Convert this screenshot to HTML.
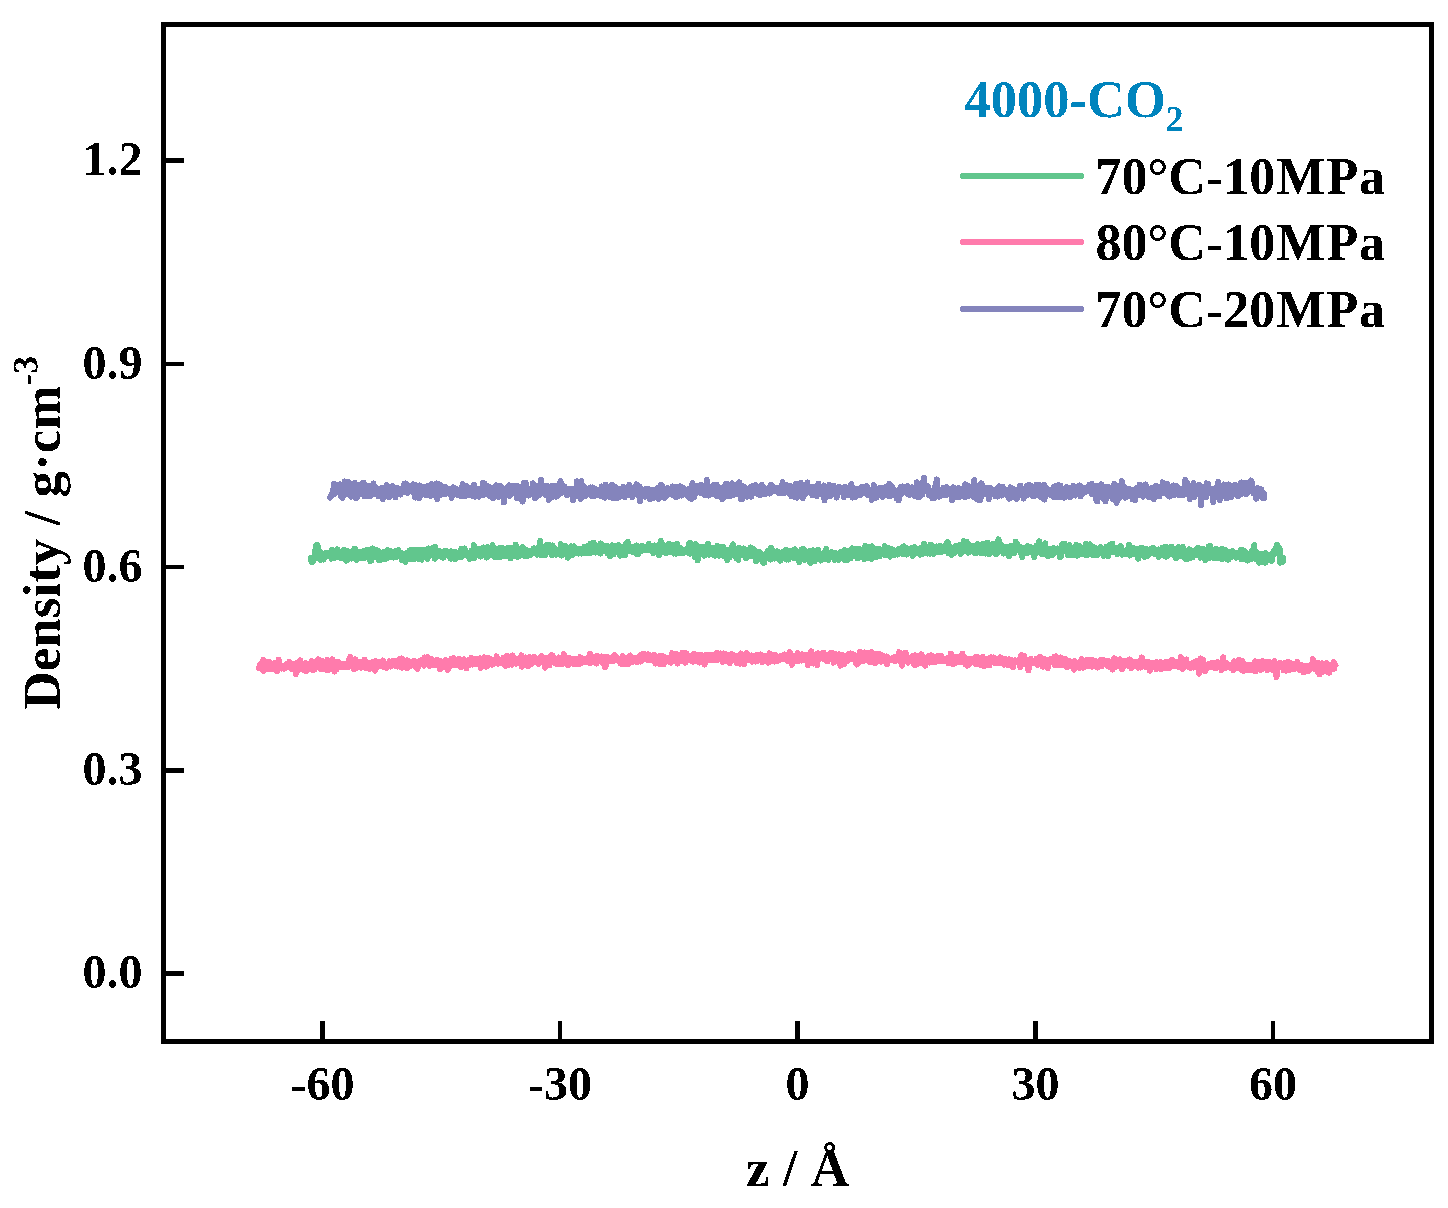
<!DOCTYPE html>
<html><head><meta charset="utf-8"><title>Density profile</title>
<style>
html,body{margin:0;padding:0;background:#fff;}
svg{display:block;}
text{font-family:"Liberation Serif",serif;font-weight:bold;fill:#000;}
.tk{font-size:48px;}
.lg{font-size:52px;}
.ax{font-size:53px;}
.ti{font-size:52.5px;fill:#0084BD;}
</style></head><body>
<svg width="1448" height="1208" viewBox="0 0 1448 1208">
<defs><filter id="al" x="-5%" y="-20%" width="110%" height="140%" color-interpolation-filters="sRGB"><feComponentTransfer><feFuncA type="discrete" tableValues="0 1"/></feComponentTransfer></filter></defs>
<rect x="0" y="0" width="1448" height="1208" fill="#fff"/>
<g id="data">
<path d="M259.0,668.1 259.6,666.4 260.1,664.3 260.7,668.8 261.2,668.1 261.8,663.6 262.3,665.4 262.9,663.3 263.4,659.9 264.0,670.9 264.5,665.4 265.1,668.0 265.6,667.1 266.2,666.4 266.7,663.5 267.3,663.6 267.8,667.4 268.4,669.2 268.9,661.5 269.5,663.8 270.0,665.7 270.6,668.9 271.1,667.6 271.7,668.3 272.2,666.8 272.8,663.7 273.3,665.8 273.9,669.5 274.4,666.6 275.0,663.0 275.5,669.8 276.1,667.3 276.6,668.0 277.2,671.2 277.7,664.7 278.3,664.3 278.8,659.6 279.4,666.5 279.9,667.7 280.5,666.0 281.0,666.1 281.6,668.5 282.1,667.1 282.7,667.1 283.2,665.8 283.8,665.9 284.3,668.7 284.9,665.8 285.4,664.9 286.0,664.5 286.5,665.7 287.1,666.5 287.6,667.3 288.2,666.3 288.7,665.1 289.3,661.7 289.8,667.5 290.4,663.3 290.9,665.5 291.5,669.0 292.0,666.5 292.6,663.8 293.1,667.7 293.7,665.1 294.2,664.6 294.8,669.1 295.3,667.6 295.9,674.1 296.4,663.0 297.0,665.8 297.5,666.9 298.1,669.2 298.6,665.1 299.2,669.9 299.7,666.2 300.3,660.3 300.8,665.4 301.4,665.7 301.9,665.4 302.5,664.2 303.0,665.2 303.6,668.3 304.1,668.1 304.7,670.7 305.2,663.6 305.8,663.0 306.3,671.2 306.9,666.7 307.4,666.8 308.0,663.5 308.5,666.7 309.1,665.8 309.6,665.7 310.2,668.7 310.7,663.5 311.3,666.0 311.8,661.1 312.4,666.7 312.9,662.7 313.5,670.2 314.0,662.0 314.6,669.7 315.1,663.3 315.7,661.3 316.2,666.0 316.8,666.1 317.3,663.0 317.9,662.1 318.4,659.2 319.0,664.5 319.5,666.3 320.1,660.1 320.6,665.7 321.2,669.5 321.7,660.8 322.3,666.8 322.8,666.8 323.4,663.7 323.9,666.2 324.5,662.4 325.0,666.5 325.6,669.5 326.1,664.4 326.7,663.7 327.2,660.0 327.8,670.1 328.3,670.1 328.9,663.9 329.4,665.5 330.0,665.0 330.5,667.1 331.1,661.1 331.6,666.9 332.2,659.3 332.7,666.9 333.3,663.2 333.8,667.8 334.4,671.6 334.9,663.5 335.5,663.2 336.0,662.0 336.6,669.5 337.1,667.9 337.7,663.5 338.2,661.6 338.8,666.4 339.3,665.1 339.9,663.8 340.4,665.3 341.0,666.8 341.5,664.9 342.1,666.6 342.6,665.0 343.2,665.7 343.7,663.6 344.3,667.0 344.8,665.4 345.4,664.2 345.9,665.4 346.5,664.3 347.0,664.4 347.6,666.3 348.1,667.2 348.7,660.7 349.2,664.4 349.8,665.1 350.3,657.0 350.9,666.0 351.4,664.2 352.0,663.4 352.5,660.2 353.1,661.1 353.6,665.0 354.2,669.5 354.7,663.7 355.3,659.3 355.8,668.0 356.4,665.2 356.9,667.8 357.5,663.1 358.0,667.0 358.6,665.6 359.1,661.5 359.7,663.8 360.2,665.0 360.8,662.4 361.3,667.8 361.9,663.6 362.4,667.0 363.0,664.0 363.5,666.3 364.1,666.1 364.6,659.7 365.2,664.0 365.7,666.5 366.3,663.7 366.8,668.5 367.4,668.0 367.9,662.6 368.5,665.0 369.0,666.0 369.6,662.8 370.1,668.9 370.7,666.6 371.2,664.8 371.8,662.5 372.3,662.3 372.9,662.6 373.4,666.6 374.0,662.3 374.5,666.8 375.1,670.6 375.6,661.0 376.2,662.8 376.7,667.4 377.3,665.2 377.8,662.2 378.4,664.3 378.9,664.3 379.5,666.3 380.0,662.1 380.6,663.7 381.1,664.0 381.7,665.3 382.2,663.8 382.8,660.5 383.3,660.9 383.9,667.5 384.4,663.0 385.0,664.6 385.5,664.4 386.1,665.3 386.6,667.8 387.2,664.4 387.7,666.3 388.3,665.6 388.8,664.9 389.4,661.3 389.9,663.0 390.5,666.6 391.0,663.4 391.6,663.3 392.1,663.4 392.7,661.0 393.2,662.0 393.8,664.6 394.3,661.8 394.9,660.8 395.4,666.0 396.0,666.2 396.5,663.9 397.1,661.5 397.6,666.6 398.2,665.1 398.7,659.9 399.3,661.5 399.8,660.2 400.4,658.6 400.9,667.2 401.5,667.6 402.0,658.4 402.6,665.3 403.1,663.4 403.7,664.5 404.2,665.9 404.8,665.9 405.3,663.7 405.9,662.2 406.4,665.3 407.0,668.3 407.5,660.3 408.1,661.7 408.6,666.4 409.2,661.4 409.7,662.5 410.3,665.9 410.8,664.6 411.4,663.1 411.9,663.5 412.5,661.6 413.0,665.5 413.6,662.2 414.1,660.6 414.7,662.1 415.2,663.4 415.8,667.3 416.3,663.3 416.9,662.3 417.4,668.9 418.0,663.3 418.5,666.8 419.1,664.6 419.6,665.1 420.2,660.4 420.7,664.3 421.3,662.1 421.8,660.4 422.4,664.2 422.9,662.8 423.5,663.5 424.0,665.7 424.6,657.4 425.1,663.9 425.7,659.0 426.2,658.6 426.8,662.9 427.3,661.7 427.9,657.0 428.4,662.6 429.0,663.3 429.5,666.0 430.1,665.5 430.6,662.7 431.2,658.8 431.7,662.3 432.3,663.9 432.8,664.6 433.4,665.3 433.9,663.3 434.5,663.9 435.0,661.5 435.6,662.0 436.1,664.3 436.7,665.3 437.2,659.8 437.8,661.7 438.3,662.3 438.9,664.6 439.4,663.0 440.0,669.3 440.5,663.4 441.1,661.2 441.6,662.5 442.2,661.6 442.7,662.6 443.3,663.8 443.8,666.7 444.4,666.5 444.9,664.4 445.5,660.2 446.0,664.2 446.6,660.9 447.1,662.6 447.7,669.9 448.2,662.8 448.8,668.2 449.3,662.9 449.9,662.0 450.4,662.2 451.0,665.2 451.5,658.6 452.1,661.5 452.6,659.8 453.2,661.9 453.7,658.1 454.3,661.8 454.8,664.9 455.4,660.6 455.9,665.3 456.5,660.7 457.0,662.0 457.6,659.4 458.1,663.8 458.7,663.7 459.2,658.8 459.8,664.8 460.3,661.2 460.9,667.1 461.4,662.8 462.0,660.3 462.5,661.7 463.1,662.3 463.6,659.3 464.2,659.6 464.7,666.6 465.3,663.7 465.8,665.0 466.4,668.5 466.9,664.2 467.5,660.5 468.0,664.7 468.6,660.7 469.1,665.5 469.7,664.2 470.2,663.2 470.8,660.4 471.3,658.0 471.9,663.3 472.4,664.5 473.0,662.6 473.5,661.5 474.1,661.5 474.6,661.4 475.2,663.9 475.7,658.8 476.3,661.7 476.8,663.9 477.4,662.3 477.9,661.0 478.5,661.2 479.0,663.4 479.6,664.2 480.1,658.3 480.7,667.8 481.2,663.2 481.8,662.1 482.3,659.3 482.9,660.2 483.4,664.1 484.0,663.2 484.5,657.3 485.1,659.7 485.6,661.5 486.2,659.4 486.7,666.7 487.3,664.9 487.8,660.8 488.4,657.9 488.9,662.2 489.5,660.9 490.0,660.7 490.6,658.8 491.1,663.6 491.7,661.7 492.2,664.7 492.8,663.9 493.3,660.7 493.9,662.1 494.4,660.1 495.0,662.1 495.5,659.2 496.1,663.4 496.6,656.3 497.2,662.6 497.7,661.6 498.3,663.6 498.8,659.3 499.4,662.1 499.9,663.3 500.5,661.4 501.0,662.0 501.6,661.6 502.1,660.6 502.7,660.4 503.2,657.9 503.8,662.2 504.3,661.7 504.9,665.6 505.4,659.6 506.0,665.6 506.5,664.5 507.1,655.8 507.6,661.5 508.2,665.0 508.7,661.5 509.3,663.5 509.8,664.1 510.4,659.7 510.9,662.7 511.5,661.3 512.0,664.8 512.6,655.4 513.1,660.6 513.7,658.7 514.2,661.1 514.8,662.5 515.3,662.1 515.9,661.3 516.4,663.7 517.0,659.5 517.5,659.5 518.1,661.7 518.6,658.3 519.2,662.0 519.7,662.3 520.3,661.7 520.8,658.3 521.4,655.3 521.9,666.6 522.5,666.2 523.0,659.0 523.6,660.9 524.1,660.0 524.7,657.6 525.2,657.5 525.8,660.9 526.3,664.4 526.9,663.6 527.4,664.4 528.0,666.2 528.5,659.5 529.1,660.6 529.6,657.1 530.2,660.3 530.7,662.0 531.3,664.0 531.8,658.1 532.4,659.3 532.9,660.5 533.5,660.3 534.0,656.9 534.6,662.4 535.1,660.0 535.7,659.9 536.2,659.2 536.8,660.5 537.3,659.3 537.9,660.5 538.4,664.0 539.0,660.7 539.5,661.9 540.1,660.9 540.6,657.2 541.2,656.1 541.7,662.2 542.3,658.9 542.8,660.2 543.4,659.0 543.9,657.5 544.5,664.2 545.0,667.8 545.6,664.3 546.1,657.6 546.7,659.6 547.2,661.6 547.8,657.8 548.3,660.2 548.9,661.5 549.4,665.5 550.0,656.6 550.5,660.9 551.1,657.7 551.6,654.9 552.2,662.3 552.7,655.7 553.3,659.8 553.8,662.6 554.4,661.1 554.9,659.9 555.5,663.4 556.0,659.4 556.6,658.9 557.1,664.0 557.7,660.9 558.2,658.6 558.8,657.6 559.3,659.3 559.9,663.4 560.4,659.2 561.0,660.9 561.5,664.3 562.1,664.3 562.6,657.0 563.2,663.7 563.7,654.0 564.3,662.1 564.8,657.0 565.4,659.2 565.9,659.1 566.5,658.7 567.0,660.4 567.6,659.3 568.1,665.1 568.7,659.7 569.2,657.7 569.8,660.8 570.3,658.5 570.9,660.3 571.4,659.1 572.0,658.9 572.5,661.2 573.1,662.6 573.6,663.8 574.2,662.1 574.7,660.0 575.3,658.8 575.8,661.3 576.4,664.0 576.9,659.1 577.5,659.3 578.0,660.7 578.6,662.3 579.1,664.2 579.7,661.6 580.2,657.1 580.8,661.6 581.3,659.6 581.9,658.6 582.4,662.8 583.0,659.7 583.5,660.0 584.1,662.2 584.6,661.3 585.2,661.6 585.7,660.8 586.3,658.6 586.8,658.7 587.4,659.7 587.9,660.1 588.5,662.5 589.0,656.5 589.6,660.3 590.1,653.7 590.7,663.1 591.2,662.0 591.8,658.4 592.3,658.7 592.9,659.6 593.4,657.6 594.0,660.3 594.5,662.0 595.1,657.0 595.6,659.9 596.2,657.5 596.7,663.5 597.3,655.7 597.8,658.5 598.4,660.4 598.9,660.1 599.5,658.2 600.0,660.9 600.6,658.7 601.1,661.5 601.7,656.4 602.2,658.4 602.8,662.7 603.3,663.6 603.9,663.7 604.4,657.3 605.0,667.1 605.5,660.2 606.1,665.8 606.6,661.5 607.2,656.9 607.7,661.2 608.3,659.3 608.8,660.9 609.4,658.4 609.9,657.8 610.5,660.4 611.0,657.6 611.6,661.0 612.1,658.0 612.7,658.0 613.2,656.6 613.8,661.0 614.3,659.0 614.9,655.1 615.4,657.0 616.0,660.3 616.5,659.7 617.1,659.9 617.6,657.9 618.2,659.8 618.7,659.7 619.3,661.7 619.8,659.4 620.4,663.7 620.9,659.0 621.5,661.1 622.0,663.8 622.6,656.2 623.1,658.7 623.7,663.1 624.2,659.0 624.8,658.5 625.3,664.1 625.9,663.3 626.4,660.5 627.0,658.4 627.5,661.5 628.1,658.2 628.6,663.9 629.2,656.7 629.7,656.6 630.3,655.5 630.8,659.0 631.4,662.5 631.9,659.2 632.5,662.2 633.0,660.4 633.6,660.3 634.1,660.4 634.7,659.5 635.2,658.1 635.8,661.2 636.3,661.1 636.9,662.2 637.4,659.9 638.0,661.3 638.5,658.1 639.1,661.1 639.6,656.4 640.2,655.5 640.7,661.5 641.3,658.6 641.8,659.9 642.4,659.3 642.9,659.7 643.5,653.7 644.0,658.1 644.6,659.3 645.1,657.4 645.7,659.3 646.2,657.5 646.8,659.1 647.3,660.0 647.9,657.9 648.4,654.3 649.0,660.2 649.5,659.8 650.1,658.4 650.6,658.7 651.2,656.2 651.7,659.8 652.3,659.6 652.8,660.6 653.4,658.5 653.9,654.5 654.5,655.4 655.0,658.3 655.6,663.5 656.1,657.9 656.7,660.6 657.2,658.6 657.8,659.9 658.3,659.5 658.9,656.3 659.4,659.2 660.0,664.5 660.5,655.6 661.1,658.3 661.6,659.5 662.2,659.1 662.7,660.0 663.3,656.2 663.8,664.2 664.4,660.9 664.9,661.2 665.5,662.0 666.0,657.6 666.6,660.7 667.1,657.5 667.7,658.6 668.2,660.6 668.8,661.7 669.3,658.9 669.9,657.6 670.4,658.2 671.0,662.6 671.5,659.0 672.1,653.2 672.6,661.5 673.2,660.9 673.7,655.9 674.3,655.0 674.8,657.1 675.4,660.2 675.9,656.9 676.5,653.9 677.0,661.1 677.6,663.7 678.1,656.5 678.7,659.0 679.2,657.9 679.8,658.1 680.3,656.6 680.9,658.5 681.4,660.9 682.0,659.4 682.5,652.7 683.1,654.9 683.6,656.9 684.2,659.5 684.7,660.3 685.3,662.6 685.8,661.4 686.4,653.2 686.9,656.8 687.5,660.5 688.0,660.2 688.6,656.2 689.1,660.0 689.7,659.9 690.2,657.4 690.8,656.2 691.3,660.8 691.9,655.5 692.4,657.7 693.0,661.7 693.5,657.6 694.1,653.8 694.6,658.0 695.2,655.3 695.7,656.8 696.3,657.1 696.8,659.7 697.4,661.2 697.9,655.5 698.5,655.3 699.0,657.3 699.6,662.7 700.1,660.4 700.7,654.6 701.2,657.7 701.8,656.9 702.3,658.4 702.9,658.5 703.4,658.7 704.0,659.8 704.5,664.6 705.1,655.9 705.6,655.2 706.2,659.7 706.7,656.7 707.3,660.0 707.8,654.9 708.4,655.0 708.9,656.0 709.5,655.1 710.0,656.4 710.6,660.2 711.1,655.0 711.7,656.1 712.2,660.1 712.8,657.0 713.3,658.1 713.9,659.6 714.4,659.9 715.0,657.8 715.5,656.6 716.1,653.3 716.6,658.4 717.2,659.8 717.7,659.6 718.3,653.3 718.8,658.1 719.4,658.9 719.9,657.7 720.5,653.3 721.0,655.0 721.6,653.6 722.1,660.1 722.7,661.8 723.2,656.4 723.8,653.5 724.3,655.7 724.9,660.0 725.4,657.9 726.0,660.6 726.5,654.3 727.1,659.5 727.6,656.6 728.2,658.5 728.7,661.2 729.3,658.7 729.8,663.2 730.4,658.2 730.9,658.2 731.5,654.0 732.0,658.7 732.6,654.3 733.1,659.8 733.7,656.6 734.2,659.6 734.8,657.9 735.3,656.9 735.9,655.8 736.4,657.4 737.0,663.1 737.5,658.5 738.1,659.9 738.6,662.8 739.2,662.8 739.7,663.6 740.3,655.2 740.8,653.5 741.4,661.6 741.9,656.2 742.5,660.8 743.0,661.8 743.6,657.3 744.1,664.1 744.7,661.5 745.2,656.5 745.8,657.4 746.3,657.0 746.9,653.0 747.4,660.4 748.0,658.4 748.5,660.1 749.1,656.6 749.6,656.8 750.2,655.6 750.7,658.7 751.3,655.4 751.8,659.5 752.4,661.8 752.9,659.7 753.5,656.8 754.0,658.4 754.6,657.0 755.1,658.0 755.7,661.6 756.2,657.5 756.8,654.9 757.3,654.8 757.9,660.8 758.4,657.9 759.0,658.8 759.5,655.4 760.1,656.6 760.6,654.3 761.2,660.5 761.7,656.1 762.3,662.0 762.8,657.2 763.4,660.4 763.9,657.5 764.5,656.1 765.0,659.6 765.6,658.2 766.1,656.4 766.7,659.9 767.2,659.8 767.8,655.9 768.3,662.8 768.9,658.9 769.4,653.3 770.0,661.0 770.5,658.4 771.1,655.9 771.6,656.1 772.2,660.1 772.7,660.8 773.3,654.9 773.8,657.7 774.4,655.4 774.9,661.6 775.5,654.9 776.0,655.4 776.6,658.6 777.1,661.4 777.7,658.7 778.2,660.0 778.8,657.9 779.3,657.5 779.9,659.6 780.4,657.8 781.0,659.1 781.5,655.7 782.1,659.2 782.6,659.4 783.2,659.5 783.7,658.3 784.3,654.4 784.8,657.9 785.4,656.5 785.9,658.2 786.5,658.7 787.0,657.8 787.6,661.3 788.1,661.4 788.7,657.8 789.2,658.4 789.8,652.3 790.3,659.5 790.9,657.0 791.4,662.2 792.0,664.9 792.5,656.2 793.1,657.8 793.6,656.1 794.2,656.1 794.7,661.4 795.3,658.0 795.8,657.2 796.4,658.6 796.9,661.2 797.5,661.0 798.0,653.1 798.6,659.3 799.1,657.2 799.7,660.6 800.2,658.0 800.8,659.3 801.3,656.8 801.9,660.6 802.4,654.2 803.0,660.0 803.5,655.5 804.1,656.1 804.6,660.2 805.2,654.6 805.7,656.2 806.3,656.4 806.8,657.2 807.4,660.9 807.9,665.3 808.5,658.6 809.0,662.5 809.6,654.6 810.1,658.0 810.7,655.1 811.2,651.3 811.8,656.9 812.3,655.9 812.9,661.3 813.4,663.6 814.0,658.9 814.5,661.4 815.1,658.1 815.6,658.6 816.2,661.6 816.7,654.0 817.3,665.0 817.8,658.5 818.4,653.4 818.9,658.8 819.5,656.8 820.0,656.6 820.6,656.2 821.1,657.5 821.7,656.5 822.2,657.1 822.8,656.4 823.3,652.6 823.9,659.4 824.4,659.6 825.0,656.8 825.5,655.4 826.1,654.6 826.6,660.9 827.2,656.8 827.7,661.3 828.3,660.0 828.8,659.1 829.4,657.1 829.9,656.0 830.5,653.0 831.0,658.3 831.6,655.6 832.1,657.8 832.7,658.3 833.2,653.4 833.8,662.7 834.3,657.7 834.9,659.1 835.4,653.9 836.0,658.9 836.5,657.6 837.1,656.4 837.6,657.8 838.2,659.9 838.7,661.9 839.3,654.2 839.8,659.6 840.4,665.7 840.9,662.5 841.5,659.6 842.0,654.7 842.6,660.3 843.1,658.2 843.7,656.4 844.2,664.5 844.8,659.5 845.3,658.9 845.9,661.8 846.4,655.9 847.0,656.7 847.5,658.4 848.1,660.7 848.6,659.9 849.2,653.8 849.7,658.1 850.3,659.4 850.8,653.5 851.4,657.4 851.9,659.1 852.5,659.3 853.0,654.1 853.6,654.8 854.1,658.6 854.7,656.6 855.2,657.6 855.8,661.0 856.3,663.5 856.9,664.5 857.4,656.6 858.0,656.0 858.5,657.1 859.1,662.1 859.6,654.0 860.2,651.6 860.7,656.4 861.3,657.2 861.8,655.9 862.4,657.3 862.9,661.3 863.5,659.8 864.0,656.4 864.6,652.4 865.1,659.1 865.7,657.0 866.2,656.3 866.8,659.9 867.3,656.6 867.9,652.9 868.4,658.5 869.0,659.4 869.5,654.9 870.1,662.1 870.6,656.8 871.2,656.2 871.7,652.0 872.3,662.5 872.8,655.0 873.4,660.2 873.9,653.7 874.5,662.0 875.0,663.0 875.6,654.7 876.1,654.3 876.7,660.0 877.2,656.9 877.8,657.7 878.3,654.1 878.9,659.4 879.4,655.1 880.0,660.8 880.5,654.3 881.1,655.9 881.6,661.7 882.2,657.6 882.7,655.8 883.3,657.8 883.8,657.7 884.4,657.6 884.9,660.7 885.5,660.0 886.0,658.1 886.6,656.5 887.1,664.0 887.7,660.4 888.2,659.1 888.8,658.5 889.3,659.4 889.9,659.3 890.4,660.0 891.0,659.5 891.5,659.1 892.1,660.1 892.6,658.2 893.2,658.4 893.7,660.2 894.3,659.1 894.8,656.8 895.4,661.2 895.9,660.3 896.5,657.0 897.0,659.3 897.6,659.8 898.1,657.9 898.7,660.5 899.2,652.1 899.8,657.6 900.3,655.0 900.9,654.5 901.4,660.7 902.0,665.9 902.5,655.3 903.1,658.4 903.6,661.2 904.2,653.4 904.7,659.6 905.3,659.0 905.8,652.5 906.4,661.0 906.9,661.4 907.5,659.4 908.0,662.8 908.6,657.9 909.1,659.3 909.7,660.7 910.2,659.8 910.8,661.1 911.3,657.3 911.9,657.2 912.4,656.2 913.0,660.1 913.5,661.9 914.1,664.8 914.6,664.0 915.2,655.2 915.7,660.2 916.3,664.7 916.8,656.2 917.4,661.7 917.9,656.1 918.5,659.8 919.0,661.3 919.6,663.4 920.1,660.0 920.7,658.0 921.2,654.3 921.8,655.2 922.3,662.5 922.9,659.8 923.4,659.2 924.0,661.1 924.5,661.8 925.1,665.9 925.6,659.7 926.2,662.3 926.7,660.6 927.3,659.8 927.8,656.5 928.4,660.4 928.9,656.6 929.5,656.1 930.0,662.6 930.6,656.6 931.1,655.2 931.7,657.2 932.2,658.5 932.8,656.2 933.3,661.6 933.9,660.8 934.4,661.0 935.0,661.8 935.5,657.5 936.1,661.7 936.6,658.5 937.2,657.5 937.7,656.0 938.3,658.8 938.8,656.7 939.4,661.5 939.9,661.0 940.5,656.4 941.0,656.1 941.6,660.8 942.1,658.0 942.7,660.4 943.2,660.6 943.8,660.8 944.3,659.9 944.9,659.6 945.4,659.4 946.0,658.8 946.5,659.1 947.1,658.2 947.6,659.8 948.2,663.3 948.7,661.9 949.3,657.0 949.8,659.2 950.4,659.8 950.9,653.5 951.5,656.9 952.0,661.9 952.6,659.9 953.1,664.4 953.7,658.4 954.2,662.9 954.8,659.6 955.3,656.9 955.9,660.4 956.4,662.5 957.0,660.6 957.5,659.9 958.1,661.7 958.6,657.3 959.2,659.1 959.7,658.5 960.3,662.1 960.8,656.9 961.4,660.9 961.9,658.2 962.5,653.6 963.0,660.3 963.6,657.3 964.1,660.2 964.7,661.8 965.2,664.0 965.8,658.1 966.3,660.5 966.9,665.7 967.4,662.9 968.0,659.9 968.5,663.4 969.1,664.7 969.6,663.1 970.2,659.0 970.7,662.9 971.3,661.0 971.8,660.6 972.4,662.3 972.9,661.9 973.5,661.0 974.0,662.3 974.6,663.3 975.1,657.3 975.7,658.1 976.2,664.3 976.8,664.3 977.3,661.9 977.9,657.1 978.4,663.5 979.0,661.2 979.5,662.8 980.1,661.4 980.6,660.4 981.2,665.0 981.7,661.0 982.3,663.1 982.8,656.9 983.4,661.5 983.9,666.0 984.5,662.0 985.0,663.4 985.6,664.3 986.1,665.5 986.7,661.5 987.2,659.0 987.8,663.8 988.3,658.5 988.9,658.9 989.4,665.3 990.0,658.9 990.5,659.7 991.1,662.2 991.6,657.4 992.2,659.1 992.7,662.2 993.3,658.3 993.8,657.5 994.4,658.5 994.9,663.5 995.5,660.7 996.0,660.7 996.6,662.0 997.1,661.4 997.7,660.4 998.2,661.2 998.8,658.7 999.3,663.3 999.9,662.8 1000.4,657.3 1001.0,657.7 1001.5,661.1 1002.1,662.0 1002.6,659.1 1003.2,660.8 1003.7,663.0 1004.3,664.8 1004.8,659.5 1005.4,661.6 1005.9,659.2 1006.5,661.2 1007.0,660.1 1007.6,664.9 1008.1,659.9 1008.7,660.2 1009.2,659.3 1009.8,662.4 1010.3,665.4 1010.9,661.2 1011.4,660.1 1012.0,664.5 1012.5,661.2 1013.1,667.3 1013.6,660.6 1014.2,662.3 1014.7,661.8 1015.3,660.4 1015.8,661.4 1016.4,661.0 1016.9,661.1 1017.5,662.5 1018.0,662.5 1018.6,660.3 1019.1,662.2 1019.7,663.4 1020.2,667.0 1020.8,660.3 1021.3,655.1 1021.9,664.5 1022.4,661.8 1023.0,661.2 1023.5,658.7 1024.1,655.6 1024.6,664.0 1025.2,662.8 1025.7,664.3 1026.3,660.3 1026.8,661.9 1027.4,660.6 1027.9,660.3 1028.5,670.4 1029.0,660.3 1029.6,663.2 1030.1,662.6 1030.7,658.8 1031.2,660.6 1031.8,663.5 1032.3,660.4 1032.9,662.9 1033.4,663.4 1034.0,662.9 1034.5,662.6 1035.1,662.2 1035.6,661.1 1036.2,658.7 1036.7,663.4 1037.3,664.8 1037.8,662.0 1038.4,661.9 1038.9,662.8 1039.5,661.3 1040.0,656.8 1040.6,659.2 1041.1,658.2 1041.7,663.3 1042.2,666.1 1042.8,662.0 1043.3,666.8 1043.9,662.2 1044.4,662.4 1045.0,661.6 1045.5,659.3 1046.1,662.5 1046.6,663.6 1047.2,661.6 1047.7,668.2 1048.3,659.8 1048.8,662.4 1049.4,660.2 1049.9,661.1 1050.5,659.9 1051.0,659.0 1051.6,660.5 1052.1,661.5 1052.7,661.2 1053.2,661.6 1053.8,662.8 1054.3,656.9 1054.9,665.2 1055.4,661.8 1056.0,656.3 1056.5,660.0 1057.1,659.7 1057.6,665.3 1058.2,664.9 1058.7,661.8 1059.3,659.7 1059.8,660.4 1060.4,657.5 1060.9,660.6 1061.5,665.1 1062.0,665.4 1062.6,661.0 1063.1,663.7 1063.7,662.5 1064.2,662.2 1064.8,658.6 1065.3,662.6 1065.9,659.1 1066.4,661.2 1067.0,667.3 1067.5,662.4 1068.1,664.9 1068.6,665.9 1069.2,661.0 1069.7,665.9 1070.3,662.8 1070.8,666.1 1071.4,664.2 1071.9,663.2 1072.5,665.5 1073.0,662.1 1073.6,663.8 1074.1,669.8 1074.7,661.1 1075.2,662.9 1075.8,665.1 1076.3,665.9 1076.9,664.9 1077.4,666.3 1078.0,663.9 1078.5,663.8 1079.1,663.7 1079.6,667.8 1080.2,662.6 1080.7,661.0 1081.3,663.6 1081.8,659.0 1082.4,661.0 1082.9,667.7 1083.5,664.5 1084.0,663.1 1084.6,666.1 1085.1,666.6 1085.7,660.8 1086.2,665.7 1086.8,659.8 1087.3,661.5 1087.9,666.0 1088.4,661.6 1089.0,661.7 1089.5,666.3 1090.1,664.2 1090.6,659.9 1091.2,665.3 1091.7,664.6 1092.3,666.8 1092.8,660.3 1093.4,664.1 1093.9,662.1 1094.5,664.7 1095.0,661.0 1095.6,662.0 1096.1,663.3 1096.7,664.2 1097.2,662.6 1097.8,667.6 1098.3,661.9 1098.9,663.4 1099.4,665.4 1100.0,663.5 1100.5,663.1 1101.1,659.6 1101.6,666.4 1102.2,659.5 1102.7,664.2 1103.3,661.4 1103.8,659.9 1104.4,663.0 1104.9,662.2 1105.5,661.9 1106.0,663.6 1106.6,661.2 1107.1,662.2 1107.7,665.3 1108.2,666.5 1108.8,661.3 1109.3,664.5 1109.9,664.4 1110.4,662.1 1111.0,665.1 1111.5,666.2 1112.1,667.2 1112.6,669.7 1113.2,662.2 1113.7,665.4 1114.3,658.4 1114.8,667.1 1115.4,662.9 1115.9,661.0 1116.5,663.4 1117.0,664.4 1117.6,662.6 1118.1,666.2 1118.7,660.5 1119.2,659.9 1119.8,659.4 1120.3,664.4 1120.9,664.7 1121.4,666.1 1122.0,669.3 1122.5,667.0 1123.1,664.3 1123.6,665.2 1124.2,666.1 1124.7,660.8 1125.3,665.0 1125.8,664.1 1126.4,663.9 1126.9,665.0 1127.5,662.2 1128.0,664.6 1128.6,665.7 1129.1,663.0 1129.7,659.4 1130.2,660.9 1130.8,662.9 1131.3,668.1 1131.9,666.6 1132.4,663.2 1133.0,665.1 1133.5,661.7 1134.1,666.1 1134.6,664.0 1135.2,662.1 1135.7,665.3 1136.3,662.5 1136.8,666.5 1137.4,667.1 1137.9,667.5 1138.5,662.5 1139.0,661.4 1139.6,663.0 1140.1,661.3 1140.7,667.6 1141.2,660.9 1141.8,657.4 1142.3,661.7 1142.9,660.9 1143.4,663.6 1144.0,664.6 1144.5,663.9 1145.1,663.1 1145.6,666.4 1146.2,663.7 1146.7,667.3 1147.3,664.2 1147.8,661.8 1148.4,667.8 1148.9,662.3 1149.5,664.4 1150.0,670.7 1150.6,664.1 1151.1,662.9 1151.7,663.3 1152.2,664.3 1152.8,663.0 1153.3,665.2 1153.9,663.2 1154.4,666.4 1155.0,664.8 1155.5,665.1 1156.1,669.2 1156.6,662.2 1157.2,666.1 1157.7,666.9 1158.3,665.0 1158.8,663.9 1159.4,666.6 1159.9,667.2 1160.5,662.1 1161.0,669.4 1161.6,666.4 1162.1,668.9 1162.7,666.8 1163.2,666.0 1163.8,664.1 1164.3,665.2 1164.9,665.6 1165.4,662.1 1166.0,667.7 1166.5,663.5 1167.1,664.5 1167.6,665.4 1168.2,662.4 1168.7,663.2 1169.3,668.3 1169.8,666.1 1170.4,661.4 1170.9,662.2 1171.5,664.6 1172.0,659.6 1172.6,665.3 1173.1,665.6 1173.7,662.9 1174.2,664.4 1174.8,662.2 1175.3,662.8 1175.9,665.9 1176.4,663.1 1177.0,662.0 1177.5,665.3 1178.1,666.7 1178.6,663.3 1179.2,664.5 1179.7,667.2 1180.3,667.0 1180.8,657.2 1181.4,666.2 1181.9,668.6 1182.5,669.0 1183.0,664.2 1183.6,668.2 1184.1,660.8 1184.7,665.3 1185.2,664.8 1185.8,666.6 1186.3,659.5 1186.9,663.5 1187.4,663.3 1188.0,666.7 1188.5,664.4 1189.1,664.9 1189.6,663.9 1190.2,665.3 1190.7,667.8 1191.3,664.5 1191.8,663.4 1192.4,663.3 1192.9,666.5 1193.5,667.6 1194.0,663.7 1194.6,665.5 1195.1,661.8 1195.7,666.7 1196.2,666.0 1196.8,661.0 1197.3,664.1 1197.9,665.6 1198.4,661.4 1199.0,673.6 1199.5,665.7 1200.1,661.0 1200.6,658.3 1201.2,665.0 1201.7,663.9 1202.3,665.3 1202.8,663.9 1203.4,660.1 1203.9,667.3 1204.5,667.5 1205.0,671.3 1205.6,666.7 1206.1,668.5 1206.7,668.9 1207.2,665.9 1207.8,664.7 1208.3,664.1 1208.9,666.9 1209.4,666.5 1210.0,667.2 1210.5,667.3 1211.1,665.8 1211.6,666.9 1212.2,662.9 1212.7,666.8 1213.3,664.2 1213.8,665.9 1214.4,663.3 1214.9,667.8 1215.5,665.0 1216.0,668.3 1216.6,662.2 1217.1,662.1 1217.7,664.2 1218.2,662.6 1218.8,666.8 1219.3,663.8 1219.9,663.4 1220.4,666.4 1221.0,667.4 1221.5,670.1 1222.1,664.0 1222.6,663.7 1223.2,657.3 1223.7,666.1 1224.3,663.7 1224.8,667.8 1225.4,667.8 1225.9,667.4 1226.5,663.2 1227.0,664.7 1227.6,664.9 1228.1,667.3 1228.7,665.1 1229.2,665.1 1229.8,666.5 1230.3,665.2 1230.9,664.7 1231.4,668.7 1232.0,664.5 1232.5,665.2 1233.1,665.1 1233.6,670.2 1234.2,661.4 1234.7,666.6 1235.3,666.4 1235.8,664.5 1236.4,665.4 1236.9,665.3 1237.5,667.7 1238.0,662.2 1238.6,664.9 1239.1,659.9 1239.7,662.0 1240.2,668.4 1240.8,669.6 1241.3,662.8 1241.9,660.7 1242.4,662.5 1243.0,665.4 1243.5,670.9 1244.1,663.9 1244.6,665.6 1245.2,667.2 1245.7,666.9 1246.3,665.2 1246.8,666.0 1247.4,670.4 1247.9,666.3 1248.5,666.2 1249.0,664.7 1249.6,665.7 1250.1,664.7 1250.7,666.1 1251.2,667.3 1251.8,669.8 1252.3,664.7 1252.9,670.1 1253.4,668.1 1254.0,664.0 1254.5,665.6 1255.1,661.4 1255.6,671.4 1256.2,662.0 1256.7,666.4 1257.3,668.2 1257.8,668.8 1258.4,668.4 1258.9,667.4 1259.5,662.1 1260.0,667.6 1260.6,669.8 1261.1,668.9 1261.7,669.3 1262.2,663.9 1262.8,661.1 1263.3,663.2 1263.9,663.0 1264.4,661.9 1265.0,665.4 1265.5,667.8 1266.1,668.2 1266.6,667.9 1267.2,670.3 1267.7,661.6 1268.3,669.3 1268.8,669.2 1269.4,661.8 1269.9,668.1 1270.5,666.7 1271.0,663.3 1271.6,668.8 1272.1,667.7 1272.7,669.7 1273.2,665.4 1273.8,669.1 1274.3,661.1 1274.9,669.8 1275.4,665.1 1276.0,671.5 1276.5,677.1 1277.1,664.0 1277.6,669.8 1278.2,666.3 1278.7,663.6 1279.3,664.4 1279.8,667.2 1280.4,662.6 1280.9,663.4 1281.5,664.5 1282.0,664.7 1282.6,666.1 1283.1,665.3 1283.7,670.4 1284.2,666.6 1284.8,662.8 1285.3,665.9 1285.9,670.7 1286.4,670.7 1287.0,666.2 1287.5,666.9 1288.1,661.5 1288.6,664.8 1289.2,663.7 1289.7,664.3 1290.3,669.7 1290.8,669.2 1291.4,663.4 1291.9,664.9 1292.5,667.2 1293.0,666.6 1293.6,664.2 1294.1,668.9 1294.7,669.0 1295.2,666.8 1295.8,664.1 1296.3,666.3 1296.9,667.7 1297.4,661.9 1298.0,668.5 1298.5,668.0 1299.1,665.6 1299.6,670.1 1300.2,665.0 1300.7,665.4 1301.3,665.5 1301.8,665.0 1302.4,669.7 1302.9,669.9 1303.5,672.2 1304.0,670.6 1304.6,666.2 1305.1,670.2 1305.7,671.6 1306.2,666.2 1306.8,666.6 1307.3,665.6 1307.9,668.4 1308.4,670.4 1309.0,670.8 1309.5,665.9 1310.1,668.6 1310.6,667.6 1311.2,665.3 1311.7,663.9 1312.3,667.6 1312.8,659.2 1313.4,664.6 1313.9,668.5 1314.5,669.3 1315.0,667.4 1315.6,669.5 1316.1,667.8 1316.7,669.8 1317.2,665.8 1317.8,662.8 1318.3,672.8 1318.9,669.8 1319.4,674.5 1320.0,668.2 1320.5,670.0 1321.1,668.2 1321.6,668.9 1322.2,663.4 1322.7,668.2 1323.3,671.8 1323.8,665.2 1324.4,669.5 1324.9,664.7 1325.5,669.1 1326.0,666.2 1326.6,663.2 1327.1,671.6 1327.7,665.2 1328.2,667.1 1328.8,664.5 1329.3,672.8 1329.9,667.9 1330.4,667.2 1331.0,667.3 1331.5,668.4 1332.1,669.3 1332.6,667.2 1333.2,667.6 1333.7,662.2 1334.3,668.9 1334.8,664.3 1335.4,665.4" fill="none" stroke="#FF7BAC" stroke-width="6" stroke-linejoin="round" stroke-linecap="round" shape-rendering="crispEdges"/>
<path d="M311.0,558.0 311.6,562.0 312.1,557.5 312.7,562.0 313.2,558.0 313.8,560.0 314.3,556.0 314.9,553.0 315.4,550.0 316.0,546.0 316.5,545.0 317.1,545.0 317.6,545.5 318.2,547.0 318.7,550.0 319.3,553.0 319.8,557.4 320.4,559.9 320.9,555.0 321.5,553.0 322.0,558.3 322.6,554.1 323.1,557.2 323.7,559.6 324.2,556.8 324.8,555.1 325.3,557.1 325.9,552.9 326.4,554.3 327.0,553.1 327.5,554.2 328.1,553.3 328.6,554.2 329.2,553.5 329.7,554.9 330.3,554.8 330.8,555.5 331.4,558.8 331.9,549.9 332.5,558.4 333.0,553.8 333.6,550.8 334.1,553.9 334.7,554.7 335.2,557.6 335.8,551.2 336.3,555.0 336.9,554.7 337.4,549.2 338.0,550.7 338.5,556.1 339.1,556.4 339.6,557.6 340.2,555.9 340.7,555.5 341.3,554.7 341.8,558.0 342.4,551.8 342.9,553.9 343.5,555.5 344.0,549.6 344.6,558.3 345.1,552.0 345.7,554.2 346.2,560.8 346.8,551.9 347.3,552.8 347.9,559.1 348.4,551.2 349.0,553.1 349.5,556.0 350.1,555.8 350.6,556.2 351.2,555.5 351.7,558.5 352.3,557.5 352.8,556.2 353.4,552.4 353.9,552.3 354.5,548.7 355.0,556.5 355.6,549.0 356.1,557.1 356.7,560.0 357.2,551.3 357.8,552.5 358.3,553.1 358.9,557.0 359.4,551.9 360.0,554.1 360.5,553.0 361.1,553.8 361.6,558.4 362.2,551.7 362.7,554.8 363.3,555.4 363.8,557.2 364.4,550.8 364.9,557.9 365.5,555.9 366.0,557.2 366.6,554.8 367.1,549.7 367.7,552.7 368.2,557.1 368.8,554.7 369.3,554.5 369.9,560.0 370.4,561.3 371.0,554.6 371.5,560.5 372.1,548.7 372.6,548.5 373.2,557.3 373.7,553.9 374.3,556.4 374.8,556.3 375.4,554.4 375.9,556.8 376.5,555.2 377.0,550.1 377.6,555.4 378.1,555.3 378.7,560.2 379.2,551.4 379.8,554.8 380.3,553.5 380.9,554.4 381.4,559.7 382.0,555.9 382.5,553.4 383.1,555.2 383.6,557.1 384.2,551.8 384.7,554.0 385.3,559.4 385.8,557.4 386.4,554.7 386.9,553.4 387.5,554.3 388.0,550.1 388.6,557.6 389.1,555.8 389.7,555.2 390.2,550.9 390.8,552.7 391.3,556.3 391.9,555.6 392.4,553.3 393.0,556.3 393.5,557.6 394.1,552.8 394.6,553.2 395.2,552.2 395.7,551.3 396.3,557.2 396.8,556.3 397.4,555.8 397.9,551.3 398.5,550.0 399.0,554.6 399.6,553.5 400.1,555.1 400.7,552.7 401.2,556.7 401.8,560.2 402.3,559.4 402.9,559.6 403.4,555.0 404.0,557.5 404.5,553.6 405.1,557.5 405.6,561.8 406.2,553.2 406.7,552.8 407.3,556.8 407.8,555.5 408.4,555.2 408.9,551.3 409.5,555.1 410.0,550.3 410.6,559.1 411.1,554.3 411.7,555.2 412.2,554.3 412.8,549.9 413.3,550.5 413.9,554.5 414.4,559.1 415.0,551.2 415.5,552.5 416.1,554.4 416.6,549.5 417.2,549.5 417.7,553.3 418.3,554.4 418.8,553.3 419.4,559.1 419.9,554.0 420.5,555.6 421.0,559.3 421.6,559.6 422.1,549.7 422.7,553.3 423.2,557.9 423.8,550.3 424.3,551.6 424.9,550.5 425.4,550.3 426.0,550.9 426.5,554.9 427.1,558.1 427.6,558.9 428.2,554.3 428.7,548.4 429.3,554.1 429.8,553.2 430.4,555.3 430.9,553.8 431.5,548.8 432.0,555.4 432.6,548.0 433.1,552.1 433.7,555.1 434.2,555.2 434.8,558.8 435.3,547.0 435.9,555.1 436.4,556.2 437.0,553.1 437.5,556.0 438.1,550.7 438.6,556.0 439.2,555.6 439.7,551.1 440.3,552.0 440.8,553.4 441.4,552.0 441.9,557.1 442.5,554.5 443.0,557.9 443.6,557.4 444.1,554.1 444.7,553.3 445.2,551.0 445.8,551.4 446.3,551.4 446.9,554.9 447.4,551.2 448.0,554.0 448.5,554.4 449.1,552.3 449.6,553.2 450.2,558.1 450.7,558.6 451.3,551.4 451.8,553.1 452.4,552.6 452.9,552.9 453.5,558.3 454.0,555.7 454.6,557.4 455.1,559.0 455.7,552.3 456.2,553.0 456.8,553.7 457.3,556.6 457.9,553.3 458.4,555.5 459.0,557.0 459.5,557.0 460.1,554.8 460.6,551.1 461.2,548.8 461.7,556.8 462.3,554.8 462.8,550.6 463.4,551.9 463.9,552.1 464.5,548.4 465.0,554.1 465.6,551.0 466.1,552.5 466.7,555.6 467.2,553.0 467.8,554.9 468.3,554.6 468.9,553.4 469.4,553.4 470.0,558.8 470.5,552.7 471.1,558.1 471.6,550.5 472.2,555.4 472.7,553.7 473.3,551.0 473.8,545.2 474.4,557.9 474.9,549.7 475.5,550.2 476.0,553.5 476.6,553.3 477.1,553.9 477.7,552.3 478.2,548.5 478.8,555.6 479.3,550.9 479.9,553.7 480.4,554.7 481.0,556.5 481.5,552.3 482.1,552.0 482.6,552.2 483.2,547.4 483.7,550.6 484.3,549.9 484.8,549.4 485.4,553.4 485.9,551.9 486.5,557.6 487.0,557.3 487.6,547.2 488.1,553.2 488.7,549.8 489.2,554.4 489.8,553.2 490.3,555.5 490.9,553.6 491.4,555.0 492.0,551.8 492.5,545.1 493.1,549.1 493.6,550.1 494.2,551.2 494.7,549.6 495.3,557.5 495.8,552.1 496.4,556.5 496.9,551.5 497.5,557.5 498.0,548.9 498.6,554.3 499.1,548.5 499.7,553.8 500.2,557.2 500.8,547.5 501.3,549.8 501.9,553.2 502.4,551.8 503.0,548.3 503.5,555.8 504.1,552.5 504.6,556.2 505.2,553.3 505.7,548.9 506.3,550.9 506.8,556.4 507.4,548.1 507.9,550.9 508.5,554.0 509.0,553.4 509.6,554.7 510.1,547.8 510.7,558.4 511.2,551.7 511.8,552.2 512.3,552.1 512.9,551.4 513.4,549.2 514.0,551.1 514.5,556.0 515.1,548.0 515.6,544.7 516.2,553.6 516.7,553.0 517.3,554.2 517.8,557.1 518.4,549.8 518.9,552.5 519.5,553.4 520.0,555.6 520.6,555.0 521.1,549.3 521.7,547.7 522.2,551.0 522.8,547.0 523.3,555.1 523.9,550.6 524.4,550.7 525.0,549.1 525.5,556.3 526.1,552.6 526.6,550.5 527.2,553.5 527.7,551.4 528.3,553.4 528.8,555.6 529.4,550.8 529.9,553.1 530.5,553.0 531.0,555.0 531.6,553.3 532.1,551.6 532.7,549.6 533.2,552.4 533.8,548.3 534.3,553.4 534.9,551.6 535.4,553.1 536.0,549.9 536.5,549.0 537.1,548.6 537.6,554.7 538.2,550.7 538.7,550.6 539.3,546.0 539.8,551.1 540.4,540.9 540.9,555.4 541.5,550.5 542.0,551.3 542.6,546.9 543.1,547.9 543.7,553.0 544.2,550.5 544.8,552.4 545.3,555.0 545.9,553.1 546.4,545.4 547.0,548.1 547.5,547.7 548.1,548.3 548.6,544.8 549.2,544.9 549.7,548.8 550.3,549.2 550.8,552.5 551.4,550.0 551.9,555.2 552.5,545.4 553.0,546.7 553.6,551.6 554.1,550.1 554.7,547.9 555.2,553.1 555.8,554.1 556.3,554.7 556.9,549.6 557.4,550.8 558.0,551.4 558.5,550.9 559.1,553.8 559.6,549.2 560.2,551.8 560.7,544.0 561.3,552.9 561.8,555.6 562.4,550.5 562.9,553.7 563.5,545.6 564.0,549.6 564.6,545.9 565.1,551.5 565.7,552.1 566.2,546.4 566.8,548.0 567.3,548.7 567.9,557.7 568.4,550.2 569.0,550.8 569.5,551.5 570.1,551.3 570.6,549.7 571.2,546.4 571.7,548.3 572.3,555.2 572.8,551.1 573.4,549.2 573.9,546.2 574.5,550.1 575.0,550.3 575.6,548.3 576.1,552.9 576.7,548.4 577.2,549.7 577.8,552.7 578.3,550.8 578.9,553.5 579.4,549.4 580.0,548.8 580.5,551.5 581.1,550.7 581.6,553.6 582.2,551.2 582.7,549.9 583.3,551.3 583.8,551.9 584.4,546.6 584.9,549.5 585.5,548.9 586.0,553.5 586.6,548.4 587.1,553.0 587.7,546.0 588.2,549.7 588.8,553.0 589.3,549.0 589.9,553.2 590.4,543.7 591.0,549.8 591.5,550.2 592.1,549.3 592.6,545.1 593.2,551.6 593.7,542.6 594.3,552.4 594.8,550.5 595.4,552.5 595.9,548.8 596.5,546.2 597.0,547.9 597.6,548.1 598.1,551.2 598.7,548.5 599.2,550.7 599.8,550.8 600.3,553.6 600.9,543.4 601.4,548.1 602.0,551.4 602.5,551.4 603.1,547.6 603.6,548.5 604.2,549.0 604.7,549.6 605.3,547.5 605.8,547.2 606.4,545.8 606.9,548.0 607.5,553.3 608.0,546.2 608.6,552.0 609.1,554.9 609.7,549.6 610.2,556.1 610.8,548.6 611.3,554.0 611.9,548.8 612.4,545.3 613.0,550.0 613.5,554.5 614.1,547.1 614.6,550.3 615.2,545.8 615.7,546.2 616.3,550.2 616.8,550.9 617.4,550.4 617.9,552.5 618.5,545.2 619.0,546.6 619.6,548.8 620.1,555.6 620.7,547.7 621.2,547.2 621.8,549.9 622.3,554.9 622.9,546.8 623.4,547.7 624.0,548.7 624.5,550.8 625.1,555.1 625.6,547.7 626.2,543.5 626.7,549.0 627.3,550.1 627.8,541.8 628.4,546.7 628.9,551.4 629.5,546.9 630.0,549.9 630.6,549.0 631.1,550.4 631.7,549.8 632.2,549.2 632.8,552.2 633.3,546.8 633.9,548.8 634.4,551.8 635.0,546.8 635.5,547.3 636.1,546.2 636.6,545.6 637.2,554.5 637.7,549.8 638.3,554.1 638.8,550.6 639.4,548.7 639.9,547.6 640.5,549.2 641.0,548.3 641.6,551.2 642.1,545.8 642.7,549.0 643.2,549.8 643.8,547.8 644.3,547.8 644.9,550.1 645.4,550.2 646.0,548.2 646.5,548.4 647.1,546.8 647.6,550.2 648.2,548.1 648.7,543.8 649.3,547.6 649.8,550.4 650.4,549.4 650.9,545.9 651.5,550.7 652.0,550.3 652.6,550.4 653.1,553.1 653.7,547.6 654.2,550.4 654.8,545.5 655.3,551.5 655.9,552.1 656.4,550.1 657.0,550.8 657.5,546.2 658.1,550.5 658.6,545.1 659.2,555.1 659.7,552.1 660.3,544.1 660.8,540.7 661.4,552.6 661.9,546.2 662.5,550.4 663.0,544.9 663.6,549.0 664.1,546.9 664.7,550.6 665.2,547.8 665.8,553.3 666.3,546.6 666.9,552.2 667.4,548.9 668.0,550.5 668.5,544.2 669.1,543.7 669.6,552.2 670.2,545.4 670.7,548.1 671.3,548.1 671.8,546.4 672.4,549.8 672.9,544.9 673.5,545.6 674.0,553.6 674.6,546.8 675.1,551.5 675.7,551.3 676.2,553.9 676.8,550.7 677.3,543.9 677.9,547.5 678.4,548.2 679.0,553.1 679.5,550.5 680.1,548.0 680.6,550.8 681.2,548.5 681.7,551.2 682.3,550.1 682.8,553.0 683.4,550.7 683.9,552.7 684.5,549.7 685.0,551.9 685.6,549.3 686.1,551.7 686.7,550.5 687.2,549.5 687.8,548.6 688.3,549.1 688.9,551.4 689.4,543.1 690.0,553.7 690.5,542.9 691.1,549.5 691.6,549.1 692.2,552.3 692.7,550.8 693.3,550.0 693.8,550.4 694.4,553.1 694.9,557.3 695.5,551.4 696.0,544.1 696.6,549.1 697.1,551.6 697.7,560.3 698.2,548.1 698.8,549.3 699.3,552.1 699.9,551.5 700.4,546.6 701.0,553.4 701.5,546.6 702.1,549.8 702.6,554.6 703.2,546.7 703.7,549.7 704.3,555.7 704.8,550.0 705.4,547.6 705.9,549.1 706.5,553.4 707.0,546.2 707.6,549.0 708.1,543.7 708.7,547.5 709.2,554.9 709.8,550.8 710.3,549.8 710.9,552.4 711.4,549.0 712.0,547.6 712.5,554.6 713.1,553.9 713.6,548.7 714.2,553.4 714.7,555.7 715.3,552.8 715.8,552.9 716.4,547.7 716.9,551.1 717.5,545.9 718.0,554.9 718.6,551.0 719.1,555.6 719.7,549.3 720.2,554.3 720.8,546.9 721.3,550.5 721.9,553.4 722.4,552.9 723.0,551.7 723.5,546.9 724.1,555.9 724.6,553.9 725.2,555.4 725.7,555.4 726.3,550.9 726.8,553.3 727.4,560.1 727.9,549.6 728.5,553.4 729.0,550.5 729.6,557.6 730.1,552.8 730.7,549.2 731.2,550.6 731.8,548.2 732.3,545.6 732.9,544.3 733.4,550.3 734.0,549.1 734.5,553.1 735.1,550.1 735.6,553.4 736.2,558.1 736.7,549.2 737.3,549.1 737.8,555.8 738.4,560.0 738.9,550.3 739.5,547.8 740.0,552.1 740.6,551.8 741.1,555.2 741.7,549.9 742.2,552.4 742.8,552.2 743.3,548.4 743.9,548.5 744.4,554.7 745.0,555.0 745.5,551.0 746.1,558.2 746.6,556.3 747.2,554.9 747.7,555.4 748.3,554.7 748.8,555.8 749.4,556.3 749.9,553.9 750.5,547.5 751.0,553.3 751.6,551.3 752.1,550.3 752.7,555.7 753.2,548.5 753.8,556.5 754.3,552.1 754.9,550.3 755.4,551.5 756.0,561.3 756.5,558.7 757.1,553.4 757.6,557.6 758.2,559.8 758.7,551.7 759.3,553.5 759.8,557.3 760.4,555.7 760.9,553.4 761.5,559.5 762.0,556.2 762.6,557.1 763.1,562.0 763.7,556.2 764.2,562.9 764.8,555.7 765.3,554.4 765.9,555.3 766.4,557.6 767.0,557.0 767.5,556.1 768.1,550.5 768.6,552.6 769.2,554.3 769.7,557.4 770.3,559.6 770.8,547.9 771.4,554.8 771.9,553.9 772.5,555.0 773.0,556.0 773.6,552.8 774.1,551.4 774.7,558.6 775.2,557.8 775.8,554.2 776.3,555.2 776.9,553.5 777.4,551.3 778.0,557.6 778.5,553.6 779.1,552.3 779.6,553.9 780.2,560.8 780.7,557.2 781.3,556.6 781.8,556.1 782.4,558.5 782.9,558.2 783.5,551.9 784.0,555.2 784.6,554.0 785.1,556.6 785.7,555.8 786.2,549.9 786.8,559.6 787.3,556.9 787.9,550.8 788.4,559.6 789.0,556.5 789.5,557.6 790.1,556.2 790.6,556.6 791.2,554.6 791.7,551.0 792.3,554.3 792.8,556.7 793.4,556.3 793.9,558.2 794.5,555.9 795.0,549.3 795.6,558.4 796.1,553.7 796.7,552.1 797.2,555.2 797.8,552.0 798.3,557.3 798.9,553.3 799.4,562.1 800.0,555.4 800.5,554.5 801.1,554.2 801.6,549.5 802.2,553.5 802.7,553.8 803.3,555.1 803.8,549.3 804.4,556.2 804.9,560.0 805.5,554.8 806.0,555.9 806.6,557.4 807.1,553.6 807.7,554.7 808.2,559.0 808.8,556.7 809.3,552.3 809.9,550.6 810.4,563.0 811.0,557.4 811.5,551.2 812.1,556.5 812.6,558.1 813.2,556.4 813.7,550.3 814.3,561.5 814.8,557.8 815.4,555.4 815.9,558.0 816.5,555.2 817.0,554.9 817.6,558.6 818.1,549.8 818.7,558.9 819.2,557.0 819.8,558.1 820.3,558.6 820.9,560.5 821.4,560.1 822.0,558.4 822.5,554.5 823.1,557.8 823.6,554.2 824.2,552.7 824.7,557.0 825.3,556.6 825.8,559.2 826.4,549.0 826.9,557.3 827.5,557.5 828.0,555.7 828.6,559.9 829.1,552.7 829.7,556.3 830.2,554.1 830.8,552.4 831.3,552.2 831.9,554.7 832.4,557.2 833.0,555.5 833.5,556.1 834.1,552.7 834.6,559.8 835.2,552.8 835.7,555.0 836.3,556.7 836.8,554.3 837.4,557.1 837.9,555.4 838.5,559.9 839.0,556.4 839.6,555.9 840.1,552.2 840.7,556.0 841.2,557.6 841.8,555.8 842.3,551.6 842.9,552.7 843.4,553.7 844.0,554.4 844.5,550.1 845.1,559.9 845.6,553.9 846.2,554.5 846.7,552.7 847.3,553.9 847.8,559.8 848.4,551.1 848.9,552.3 849.5,550.7 850.0,552.2 850.6,558.4 851.1,551.8 851.7,552.3 852.2,548.2 852.8,552.5 853.3,554.2 853.9,552.0 854.4,552.3 855.0,555.9 855.5,555.0 856.1,553.0 856.6,550.9 857.2,548.7 857.7,558.3 858.3,548.5 858.8,555.1 859.4,552.5 859.9,550.9 860.5,555.7 861.0,550.8 861.6,556.8 862.1,549.8 862.7,554.4 863.2,556.7 863.8,549.9 864.3,559.1 864.9,555.3 865.4,546.0 866.0,556.9 866.5,558.4 867.1,551.8 867.6,552.0 868.2,553.7 868.7,546.8 869.3,552.9 869.8,555.2 870.4,550.7 870.9,555.7 871.5,559.0 872.0,546.4 872.6,546.8 873.1,550.1 873.7,554.1 874.2,553.3 874.8,549.4 875.3,548.7 875.9,549.9 876.4,557.2 877.0,549.1 877.5,550.2 878.1,554.8 878.6,551.1 879.2,548.9 879.7,556.2 880.3,552.8 880.8,549.7 881.4,550.6 881.9,554.6 882.5,550.6 883.0,552.5 883.6,554.4 884.1,554.7 884.7,546.1 885.2,550.1 885.8,550.6 886.3,551.9 886.9,553.9 887.4,555.1 888.0,550.1 888.5,548.1 889.1,552.0 889.6,549.6 890.2,556.6 890.7,552.5 891.3,551.6 891.8,554.4 892.4,549.4 892.9,550.3 893.5,550.8 894.0,553.2 894.6,555.2 895.1,553.6 895.7,553.5 896.2,550.5 896.8,552.3 897.3,550.5 897.9,554.6 898.4,549.2 899.0,550.9 899.5,551.8 900.1,553.4 900.6,548.8 901.2,550.3 901.7,547.6 902.3,546.9 902.8,554.2 903.4,552.3 903.9,546.4 904.5,546.7 905.0,552.6 905.6,549.0 906.1,547.7 906.7,554.6 907.2,551.3 907.8,549.7 908.3,552.5 908.9,548.6 909.4,550.8 910.0,551.2 910.5,552.9 911.1,548.4 911.6,553.9 912.2,551.6 912.7,556.0 913.3,551.3 913.8,549.0 914.4,548.9 914.9,547.1 915.5,550.5 916.0,550.3 916.6,553.1 917.1,550.7 917.7,548.8 918.2,553.5 918.8,549.1 919.3,551.2 919.9,554.7 920.4,554.1 921.0,548.1 921.5,549.9 922.1,554.3 922.6,553.2 923.2,551.8 923.7,552.9 924.3,543.7 924.8,549.2 925.4,545.8 925.9,548.2 926.5,548.9 927.0,551.5 927.6,553.5 928.1,552.3 928.7,550.8 929.2,548.8 929.8,553.7 930.3,550.7 930.9,544.5 931.4,549.6 932.0,551.3 932.5,546.8 933.1,553.3 933.6,554.3 934.2,548.9 934.7,549.5 935.3,549.5 935.8,546.7 936.4,548.1 936.9,546.5 937.5,548.6 938.0,547.1 938.6,552.4 939.1,549.1 939.7,552.0 940.2,545.6 940.8,549.3 941.3,551.1 941.9,551.5 942.4,547.5 943.0,549.0 943.5,549.6 944.1,547.2 944.6,548.0 945.2,550.9 945.7,545.7 946.3,543.8 946.8,547.8 947.4,550.1 947.9,542.3 948.5,553.3 949.0,549.5 949.6,551.0 950.1,546.7 950.7,549.1 951.2,554.7 951.8,554.8 952.3,551.1 952.9,548.3 953.4,548.8 954.0,553.2 954.5,547.0 955.1,546.3 955.6,548.7 956.2,551.9 956.7,545.9 957.3,550.2 957.8,550.2 958.4,549.5 958.9,548.6 959.5,551.9 960.0,550.8 960.6,544.6 961.1,553.9 961.7,550.4 962.2,549.9 962.8,547.9 963.3,548.1 963.9,541.3 964.4,548.2 965.0,550.7 965.5,550.8 966.1,546.8 966.6,541.7 967.2,545.4 967.7,547.9 968.3,552.7 968.8,544.0 969.4,548.9 969.9,550.6 970.5,550.7 971.0,548.6 971.6,546.7 972.1,550.7 972.7,549.2 973.2,550.5 973.8,546.0 974.3,547.4 974.9,553.5 975.4,548.6 976.0,548.9 976.5,546.7 977.1,552.7 977.6,543.9 978.2,547.4 978.7,550.3 979.3,548.9 979.8,551.7 980.4,550.3 980.9,553.4 981.5,548.3 982.0,548.6 982.6,549.9 983.1,543.7 983.7,553.4 984.2,546.3 984.8,552.6 985.3,553.5 985.9,552.2 986.4,549.8 987.0,547.2 987.5,542.7 988.1,550.9 988.6,548.5 989.2,554.4 989.7,548.3 990.3,551.1 990.8,548.0 991.4,550.6 991.9,548.2 992.5,548.7 993.0,543.6 993.6,547.1 994.1,548.8 994.7,553.2 995.2,550.1 995.8,545.6 996.3,554.1 996.9,550.4 997.4,552.7 998.0,546.6 998.5,539.3 999.1,547.0 999.6,546.2 1000.2,550.2 1000.7,544.7 1001.3,546.7 1001.8,545.2 1002.4,549.8 1002.9,546.6 1003.5,553.6 1004.0,551.8 1004.6,552.0 1005.1,548.8 1005.7,550.2 1006.2,552.1 1006.8,546.9 1007.3,553.3 1007.9,549.3 1008.4,553.4 1009.0,556.4 1009.5,554.3 1010.1,546.2 1010.6,553.2 1011.2,548.6 1011.7,548.3 1012.3,548.8 1012.8,546.0 1013.4,550.3 1013.9,547.4 1014.5,553.0 1015.0,550.6 1015.6,541.7 1016.1,546.7 1016.7,546.5 1017.2,543.6 1017.8,547.6 1018.3,550.2 1018.9,549.1 1019.4,546.3 1020.0,551.0 1020.5,552.4 1021.1,549.7 1021.6,553.2 1022.2,557.2 1022.7,548.0 1023.3,548.5 1023.8,549.7 1024.4,551.3 1024.9,550.2 1025.5,552.7 1026.0,553.2 1026.6,546.6 1027.1,546.2 1027.7,549.4 1028.2,551.1 1028.8,552.5 1029.3,551.7 1029.9,551.6 1030.4,546.9 1031.0,550.9 1031.5,547.8 1032.1,551.0 1032.6,552.5 1033.2,547.8 1033.7,549.1 1034.3,557.2 1034.8,547.5 1035.4,548.3 1035.9,546.5 1036.5,545.5 1037.0,552.8 1037.6,546.5 1038.1,548.0 1038.7,547.4 1039.2,541.3 1039.8,552.1 1040.3,548.2 1040.9,549.7 1041.4,554.0 1042.0,549.4 1042.5,550.3 1043.1,550.4 1043.6,553.8 1044.2,545.8 1044.7,548.2 1045.3,543.3 1045.8,550.0 1046.4,551.9 1046.9,548.7 1047.5,556.0 1048.0,553.0 1048.6,555.9 1049.1,550.5 1049.7,555.5 1050.2,548.5 1050.8,551.3 1051.3,550.5 1051.9,548.8 1052.4,555.1 1053.0,554.1 1053.5,548.1 1054.1,552.3 1054.6,550.5 1055.2,550.7 1055.7,552.1 1056.3,548.7 1056.8,550.8 1057.4,551.2 1057.9,548.5 1058.5,548.8 1059.0,552.9 1059.6,550.4 1060.1,557.5 1060.7,556.8 1061.2,548.1 1061.8,551.2 1062.3,544.2 1062.9,548.3 1063.4,547.5 1064.0,547.9 1064.5,543.7 1065.1,551.0 1065.6,550.6 1066.2,547.7 1066.7,550.0 1067.3,553.0 1067.8,555.1 1068.4,546.2 1068.9,555.0 1069.5,545.0 1070.0,547.7 1070.6,549.0 1071.1,554.9 1071.7,549.8 1072.2,552.0 1072.8,555.0 1073.3,550.9 1073.9,548.9 1074.4,554.7 1075.0,549.6 1075.5,546.4 1076.1,545.0 1076.6,550.8 1077.2,555.9 1077.7,552.5 1078.3,550.4 1078.8,554.0 1079.4,545.8 1079.9,551.6 1080.5,548.7 1081.0,554.5 1081.6,547.8 1082.1,552.8 1082.7,551.0 1083.2,550.4 1083.8,552.5 1084.3,550.0 1084.9,554.7 1085.4,549.8 1086.0,543.8 1086.5,554.8 1087.1,554.4 1087.6,551.9 1088.2,554.6 1088.7,552.5 1089.3,547.9 1089.8,544.2 1090.4,547.3 1090.9,549.6 1091.5,552.0 1092.0,546.1 1092.6,547.7 1093.1,555.1 1093.7,548.3 1094.2,548.3 1094.8,547.6 1095.3,555.4 1095.9,552.9 1096.4,553.2 1097.0,555.5 1097.5,553.4 1098.1,554.6 1098.6,551.6 1099.2,553.2 1099.7,552.4 1100.3,552.7 1100.8,547.0 1101.4,549.9 1101.9,549.5 1102.5,548.6 1103.0,550.4 1103.6,556.0 1104.1,553.4 1104.7,550.9 1105.2,551.6 1105.8,554.8 1106.3,546.9 1106.9,551.8 1107.4,555.6 1108.0,556.0 1108.5,553.3 1109.1,552.3 1109.6,545.1 1110.2,548.5 1110.7,550.5 1111.3,551.8 1111.8,551.9 1112.4,543.7 1112.9,549.0 1113.5,551.5 1114.0,548.3 1114.6,550.0 1115.1,552.2 1115.7,551.6 1116.2,551.2 1116.8,552.9 1117.3,554.1 1117.9,549.8 1118.4,547.5 1119.0,548.6 1119.5,549.2 1120.1,550.6 1120.6,546.2 1121.2,548.4 1121.7,550.0 1122.3,554.8 1122.8,552.3 1123.4,550.3 1123.9,553.4 1124.5,551.3 1125.0,551.5 1125.6,554.0 1126.1,551.9 1126.7,551.3 1127.2,553.0 1127.8,549.2 1128.3,551.0 1128.9,544.6 1129.4,549.7 1130.0,555.6 1130.5,549.9 1131.1,551.0 1131.6,549.7 1132.2,547.9 1132.7,552.5 1133.3,550.9 1133.8,554.3 1134.4,548.4 1134.9,551.2 1135.5,550.0 1136.0,549.3 1136.6,554.3 1137.1,548.9 1137.7,549.0 1138.2,558.7 1138.8,550.9 1139.3,550.5 1139.9,552.6 1140.4,548.2 1141.0,552.3 1141.5,547.7 1142.1,549.8 1142.6,549.5 1143.2,555.3 1143.7,553.2 1144.3,556.9 1144.8,556.4 1145.4,549.3 1145.9,552.9 1146.5,550.1 1147.0,549.5 1147.6,555.0 1148.1,555.7 1148.7,551.8 1149.2,552.5 1149.8,552.4 1150.3,552.5 1150.9,552.6 1151.4,548.5 1152.0,553.4 1152.5,549.5 1153.1,548.0 1153.6,551.2 1154.2,552.4 1154.7,554.2 1155.3,552.8 1155.8,552.6 1156.4,549.7 1156.9,552.9 1157.5,552.4 1158.0,552.6 1158.6,549.5 1159.1,556.9 1159.7,554.1 1160.2,553.9 1160.8,552.1 1161.3,551.0 1161.9,554.7 1162.4,547.9 1163.0,550.5 1163.5,551.1 1164.1,553.7 1164.6,551.1 1165.2,556.3 1165.7,546.7 1166.3,556.8 1166.8,553.0 1167.4,554.9 1167.9,550.6 1168.5,555.2 1169.0,551.2 1169.6,552.9 1170.1,547.7 1170.7,553.9 1171.2,552.6 1171.8,546.6 1172.3,552.0 1172.9,551.3 1173.4,554.8 1174.0,550.3 1174.5,552.9 1175.1,556.3 1175.6,549.8 1176.2,558.1 1176.7,553.2 1177.3,551.8 1177.8,548.4 1178.4,547.2 1178.9,555.4 1179.5,551.2 1180.0,550.7 1180.6,555.8 1181.1,554.7 1181.7,553.0 1182.2,548.2 1182.8,546.8 1183.3,555.6 1183.9,552.6 1184.4,552.0 1185.0,558.6 1185.5,551.5 1186.1,553.9 1186.6,559.3 1187.2,554.7 1187.7,551.2 1188.3,550.4 1188.8,556.6 1189.4,549.3 1189.9,555.5 1190.5,557.9 1191.0,552.8 1191.6,555.6 1192.1,553.3 1192.7,557.4 1193.2,554.0 1193.8,551.1 1194.3,554.3 1194.9,553.7 1195.4,551.4 1196.0,552.6 1196.5,549.7 1197.1,550.8 1197.6,555.3 1198.2,547.8 1198.7,554.2 1199.3,553.5 1199.8,551.7 1200.4,557.7 1200.9,555.6 1201.5,551.7 1202.0,554.1 1202.6,556.3 1203.1,548.8 1203.7,554.2 1204.2,552.9 1204.8,554.8 1205.3,560.0 1205.9,551.7 1206.4,552.7 1207.0,550.1 1207.5,554.4 1208.1,555.6 1208.6,546.4 1209.2,558.2 1209.7,552.6 1210.3,545.8 1210.8,549.3 1211.4,555.3 1211.9,554.2 1212.5,557.5 1213.0,553.1 1213.6,557.9 1214.1,549.9 1214.7,555.3 1215.2,552.8 1215.8,552.7 1216.3,548.8 1216.9,553.0 1217.4,558.4 1218.0,552.3 1218.5,553.6 1219.1,554.7 1219.6,551.4 1220.2,555.1 1220.7,556.1 1221.3,553.7 1221.8,548.8 1222.4,559.1 1222.9,554.6 1223.5,554.4 1224.0,553.9 1224.6,552.8 1225.1,549.5 1225.7,554.4 1226.2,555.1 1226.8,557.6 1227.3,559.6 1227.9,552.5 1228.4,559.6 1229.0,555.0 1229.5,556.5 1230.1,551.7 1230.6,555.8 1231.2,552.0 1231.7,556.9 1232.3,551.1 1232.8,555.0 1233.4,553.7 1233.9,556.0 1234.5,555.7 1235.0,555.5 1235.6,553.5 1236.1,557.7 1236.7,556.8 1237.2,552.7 1237.8,557.4 1238.3,553.2 1238.9,555.4 1239.4,556.3 1240.0,555.0 1240.5,557.7 1241.1,549.8 1241.6,559.2 1242.2,550.0 1242.7,559.1 1243.3,557.1 1243.8,550.9 1244.4,556.5 1244.9,554.5 1245.5,551.9 1246.0,559.2 1246.6,558.9 1247.1,556.7 1247.7,560.7 1248.2,556.1 1248.8,554.8 1249.3,559.7 1249.9,553.5 1250.4,558.2 1251.0,559.1 1251.5,556.5 1252.1,550.8 1252.6,557.3 1253.2,556.6 1253.7,553.8 1254.3,545.1 1254.8,554.4 1255.4,551.5 1255.9,558.9 1256.5,554.6 1257.0,556.7 1257.6,558.3 1258.1,559.2 1258.7,553.3 1259.2,562.7 1259.8,559.0 1260.3,558.2 1260.9,553.5 1261.4,562.4 1262.0,558.3 1262.5,559.7 1263.1,555.5 1263.6,562.2 1264.2,560.9 1264.7,556.2 1265.3,562.6 1265.8,553.3 1266.4,559.2 1266.9,558.6 1267.5,558.7 1268.0,554.5 1268.6,555.5 1269.1,559.6 1269.7,559.9 1270.2,556.5 1270.8,555.9 1271.3,555.1 1271.9,560.8 1272.4,556.3 1273.0,555.1 1273.5,551.0 1274.1,551.3 1274.6,553.3 1275.2,553.0 1275.7,550.0 1276.3,547.0 1276.8,545.0 1277.4,545.0 1277.9,547.0 1278.5,550.0 1279.0,553.0 1279.6,548.5 1280.1,562.8 1280.7,561.0 1281.2,558.0 1281.8,562.0 1282.3,557.5 1282.9,562.0 1283.4,558.0" fill="none" stroke="#61C68D" stroke-width="6" stroke-linejoin="round" stroke-linecap="round" shape-rendering="crispEdges"/>
<path d="M330.0,497.5 330.6,497.0 331.1,496.0 331.7,495.0 332.2,493.5 332.8,492.0 333.3,490.4 333.9,483.7 334.4,494.2 335.0,492.6 335.5,488.0 336.1,489.7 336.6,492.2 337.2,489.3 337.7,489.3 338.3,484.7 338.8,492.3 339.4,490.7 339.9,491.2 340.5,484.4 341.0,496.4 341.6,490.7 342.1,488.7 342.7,497.8 343.2,489.9 343.8,484.6 344.3,488.5 344.9,481.4 345.4,494.0 346.0,488.4 346.5,487.2 347.1,494.1 347.6,483.7 348.2,492.0 348.7,482.1 349.3,487.4 349.8,485.4 350.4,495.5 350.9,496.6 351.5,488.6 352.0,493.1 352.6,489.2 353.1,492.0 353.7,487.0 354.2,483.3 354.8,483.0 355.3,491.3 355.9,498.3 356.4,490.8 357.0,487.8 357.5,497.1 358.1,490.7 358.6,490.2 359.2,490.8 359.7,489.4 360.3,488.7 360.8,484.5 361.4,491.8 361.9,489.6 362.5,494.5 363.0,488.6 363.6,482.8 364.1,489.6 364.7,496.5 365.2,488.6 365.8,486.7 366.3,485.5 366.9,486.1 367.4,489.0 368.0,485.6 368.5,495.8 369.1,489.1 369.6,490.6 370.2,495.7 370.7,495.9 371.3,489.4 371.8,491.5 372.4,493.0 372.9,489.5 373.5,483.5 374.0,492.8 374.6,493.7 375.1,491.9 375.7,488.7 376.2,489.6 376.8,488.1 377.3,489.2 377.9,495.3 378.4,496.2 379.0,493.0 379.5,492.5 380.1,493.0 380.6,490.4 381.2,490.2 381.7,487.9 382.3,490.3 382.8,499.1 383.4,493.8 383.9,489.2 384.5,488.8 385.0,487.3 385.6,492.0 386.1,492.1 386.7,485.1 387.2,492.5 387.8,488.5 388.3,496.1 388.9,491.2 389.4,497.2 390.0,488.9 390.5,489.6 391.1,491.8 391.6,494.7 392.2,492.9 392.7,486.0 393.3,491.4 393.8,490.8 394.4,489.1 394.9,488.3 395.5,497.4 396.0,489.3 396.6,487.6 397.1,493.2 397.7,491.3 398.2,490.5 398.8,493.8 399.3,492.7 399.9,492.2 400.4,494.5 401.0,492.0 401.5,488.5 402.1,489.5 402.6,488.9 403.2,491.7 403.7,486.8 404.3,484.0 404.8,491.3 405.4,485.9 405.9,483.5 406.5,492.4 407.0,488.3 407.6,492.9 408.1,489.0 408.7,486.7 409.2,486.3 409.8,489.0 410.3,490.0 410.9,487.9 411.4,489.9 412.0,485.2 412.5,491.1 413.1,484.2 413.6,490.3 414.2,493.7 414.7,495.2 415.3,497.6 415.8,485.1 416.4,493.9 416.9,495.7 417.5,494.8 418.0,487.5 418.6,492.6 419.1,498.2 419.7,485.4 420.2,492.9 420.8,495.3 421.3,488.5 421.9,493.3 422.4,487.0 423.0,488.0 423.5,488.0 424.1,491.9 424.6,490.8 425.2,494.8 425.7,487.1 426.3,490.6 426.8,494.8 427.4,493.3 427.9,486.1 428.5,493.7 429.0,489.3 429.6,492.6 430.1,492.3 430.7,495.8 431.2,491.6 431.8,484.1 432.3,486.0 432.9,493.9 433.4,490.2 434.0,495.5 434.5,492.2 435.1,488.3 435.6,495.3 436.2,488.1 436.7,483.4 437.3,499.0 437.8,483.9 438.4,493.6 438.9,494.8 439.5,491.8 440.0,484.8 440.6,495.1 441.1,485.7 441.7,486.1 442.2,489.8 442.8,494.2 443.3,492.4 443.9,494.3 444.4,489.5 445.0,490.6 445.5,486.9 446.1,490.0 446.6,493.5 447.2,490.1 447.7,493.0 448.3,489.1 448.8,489.0 449.4,491.4 449.9,490.5 450.5,493.5 451.0,491.9 451.6,497.9 452.1,490.4 452.7,490.4 453.2,487.3 453.8,491.4 454.3,493.9 454.9,488.5 455.4,491.1 456.0,494.0 456.5,490.8 457.1,489.3 457.6,495.0 458.2,491.7 458.7,492.8 459.3,495.7 459.8,495.7 460.4,490.0 460.9,489.3 461.5,492.4 462.0,490.8 462.6,484.1 463.1,496.2 463.7,491.4 464.2,494.1 464.8,486.9 465.3,496.2 465.9,489.1 466.4,490.9 467.0,486.0 467.5,490.7 468.1,490.5 468.6,490.6 469.2,493.0 469.7,491.6 470.3,495.1 470.8,488.8 471.4,487.6 471.9,491.3 472.5,493.8 473.0,496.1 473.6,494.5 474.1,484.7 474.7,492.8 475.2,496.9 475.8,491.6 476.3,492.9 476.9,492.6 477.4,489.5 478.0,493.8 478.5,491.3 479.1,496.7 479.6,493.3 480.2,488.6 480.7,493.7 481.3,495.0 481.8,489.2 482.4,489.8 482.9,482.7 483.5,494.9 484.0,489.2 484.6,483.4 485.1,484.7 485.7,490.6 486.2,494.3 486.8,491.1 487.3,493.2 487.9,487.3 488.4,486.3 489.0,494.8 489.5,493.3 490.1,491.3 490.6,496.3 491.2,487.8 491.7,489.9 492.3,495.4 492.8,498.4 493.4,491.5 493.9,497.9 494.5,489.2 495.0,492.7 495.6,490.8 496.1,485.4 496.7,492.5 497.2,495.0 497.8,490.9 498.3,491.2 498.9,496.8 499.4,486.7 500.0,485.8 500.5,489.0 501.1,487.0 501.6,496.6 502.2,492.7 502.7,488.2 503.3,489.2 503.8,502.4 504.4,489.2 504.9,488.6 505.5,492.7 506.0,494.0 506.6,492.4 507.1,488.1 507.7,487.1 508.2,493.8 508.8,491.3 509.3,485.3 509.9,496.0 510.4,494.5 511.0,490.6 511.5,490.6 512.1,492.4 512.6,489.0 513.2,486.4 513.7,492.8 514.3,486.1 514.8,493.1 515.4,486.1 515.9,491.2 516.5,491.1 517.0,498.4 517.6,487.5 518.1,486.2 518.7,489.1 519.2,487.3 519.8,489.4 520.3,493.2 520.9,494.5 521.4,497.9 522.0,488.8 522.5,501.6 523.1,499.1 523.6,490.8 524.2,482.9 524.7,491.3 525.3,491.9 525.8,482.9 526.4,491.9 526.9,490.9 527.5,488.7 528.0,494.0 528.6,495.5 529.1,489.8 529.7,492.5 530.2,489.2 530.8,488.7 531.3,492.0 531.9,493.6 532.4,489.5 533.0,483.3 533.5,493.9 534.1,485.6 534.6,492.1 535.2,498.4 535.7,491.6 536.3,487.2 536.8,486.1 537.4,496.1 537.9,491.6 538.5,493.7 539.0,495.2 539.6,491.5 540.1,490.5 540.7,488.1 541.2,480.0 541.8,485.9 542.3,491.4 542.9,491.0 543.4,493.3 544.0,491.2 544.5,492.3 545.1,494.7 545.6,488.4 546.2,490.6 546.7,485.6 547.3,495.4 547.8,491.9 548.4,493.6 548.9,499.8 549.5,495.8 550.0,491.5 550.6,494.7 551.1,486.3 551.7,493.4 552.2,492.3 552.8,485.6 553.3,496.8 553.9,489.1 554.4,494.4 555.0,490.2 555.5,495.6 556.1,496.8 556.6,488.6 557.2,486.0 557.7,491.3 558.3,495.0 558.8,490.4 559.4,489.5 559.9,493.7 560.5,481.3 561.0,489.3 561.6,486.5 562.1,492.9 562.7,489.0 563.2,487.6 563.8,490.5 564.3,486.2 564.9,491.8 565.4,489.2 566.0,490.4 566.5,489.1 567.1,495.3 567.6,491.4 568.2,493.8 568.7,493.7 569.3,488.8 569.8,494.0 570.4,493.2 570.9,493.0 571.5,490.3 572.0,490.2 572.6,494.8 573.1,500.2 573.7,488.7 574.2,493.9 574.8,490.5 575.3,494.9 575.9,493.5 576.4,495.9 577.0,481.3 577.5,489.6 578.1,488.1 578.6,491.5 579.2,489.1 579.7,489.5 580.3,494.5 580.8,499.1 581.4,481.2 581.9,490.7 582.5,493.1 583.0,491.9 583.6,490.6 584.1,486.8 584.7,488.3 585.2,494.7 585.8,496.0 586.3,492.3 586.9,488.7 587.4,492.3 588.0,491.0 588.5,494.0 589.1,492.4 589.6,489.6 590.2,492.7 590.7,487.4 591.3,495.0 591.8,496.4 592.4,487.5 592.9,493.5 593.5,488.2 594.0,496.0 594.6,495.4 595.1,491.1 595.7,495.7 596.2,490.3 596.8,489.5 597.3,489.8 597.9,491.4 598.4,490.7 599.0,492.5 599.5,489.6 600.1,494.8 600.6,495.8 601.2,490.1 601.7,486.5 602.3,494.7 602.8,496.3 603.4,491.3 603.9,487.0 604.5,492.9 605.0,497.7 605.6,484.8 606.1,493.7 606.7,490.7 607.2,488.7 607.8,493.8 608.3,487.0 608.9,493.1 609.4,496.9 610.0,492.6 610.5,488.6 611.1,485.2 611.6,487.1 612.2,484.9 612.7,498.0 613.3,491.0 613.8,487.9 614.4,487.0 614.9,487.9 615.5,490.6 616.0,487.0 616.6,498.3 617.1,489.1 617.7,488.9 618.2,493.1 618.8,497.4 619.3,496.9 619.9,490.0 620.4,492.9 621.0,492.5 621.5,493.9 622.1,492.9 622.6,488.3 623.2,487.1 623.7,492.5 624.3,487.4 624.8,497.1 625.4,492.0 625.9,488.0 626.5,490.6 627.0,489.9 627.6,491.4 628.1,495.5 628.7,486.4 629.2,484.8 629.8,493.1 630.3,491.2 630.9,492.5 631.4,493.5 632.0,491.2 632.5,497.2 633.1,488.4 633.6,492.1 634.2,488.7 634.7,487.5 635.3,494.2 635.8,494.0 636.4,484.4 636.9,487.6 637.5,492.9 638.0,495.9 638.6,489.3 639.1,491.1 639.7,486.4 640.2,501.3 640.8,493.6 641.3,495.2 641.9,494.3 642.4,495.3 643.0,494.1 643.5,490.5 644.1,494.6 644.6,492.1 645.2,496.7 645.7,489.0 646.3,489.7 646.8,494.3 647.4,496.6 647.9,492.3 648.5,489.1 649.0,491.3 649.6,489.9 650.1,499.0 650.7,495.2 651.2,496.5 651.8,492.9 652.3,489.6 652.9,496.2 653.4,498.0 654.0,493.9 654.5,491.6 655.1,495.8 655.6,490.3 656.2,494.6 656.7,489.0 657.3,488.0 657.8,493.9 658.4,493.0 658.9,498.9 659.5,490.6 660.0,491.8 660.6,487.4 661.1,484.6 661.7,484.9 662.2,493.4 662.8,487.2 663.3,496.0 663.9,497.1 664.4,490.6 665.0,498.0 665.5,492.5 666.1,495.9 666.6,490.8 667.2,495.3 667.7,488.1 668.3,494.0 668.8,489.9 669.4,491.2 669.9,494.1 670.5,492.3 671.0,491.4 671.6,494.4 672.1,494.7 672.7,486.4 673.2,493.8 673.8,494.2 674.3,488.8 674.9,493.1 675.4,486.6 676.0,497.1 676.5,490.7 677.1,491.3 677.6,496.2 678.2,491.1 678.7,493.9 679.3,487.6 679.8,489.4 680.4,486.3 680.9,490.8 681.5,495.5 682.0,492.4 682.6,494.9 683.1,487.7 683.7,488.2 684.2,489.8 684.8,493.7 685.3,492.9 685.9,491.5 686.4,493.9 687.0,491.0 687.5,491.5 688.1,496.5 688.6,489.3 689.2,492.2 689.7,497.7 690.3,491.9 690.8,494.2 691.4,489.2 691.9,498.9 692.5,483.0 693.0,487.2 693.6,487.5 694.1,497.6 694.7,492.8 695.2,490.5 695.8,486.6 696.3,492.9 696.9,491.9 697.4,488.8 698.0,485.8 698.5,487.3 699.1,492.3 699.6,492.6 700.2,491.7 700.7,490.9 701.3,484.7 701.8,491.6 702.4,487.5 702.9,491.6 703.5,493.2 704.0,488.8 704.6,487.5 705.1,495.2 705.7,492.7 706.2,489.0 706.8,480.0 707.3,491.2 707.9,493.7 708.4,495.6 709.0,488.8 709.5,488.9 710.1,489.6 710.6,494.5 711.2,486.8 711.7,490.9 712.3,487.8 712.8,492.3 713.4,485.4 713.9,492.7 714.5,489.4 715.0,490.4 715.6,493.3 716.1,495.6 716.7,484.8 717.2,495.0 717.8,493.3 718.3,490.1 718.9,496.5 719.4,491.9 720.0,496.1 720.5,488.9 721.1,487.9 721.6,496.0 722.2,499.4 722.7,493.6 723.3,494.5 723.8,489.3 724.4,486.1 724.9,490.3 725.5,496.8 726.0,484.0 726.6,489.2 727.1,483.8 727.7,491.5 728.2,494.4 728.8,486.3 729.3,489.5 729.9,496.1 730.4,490.7 731.0,486.3 731.5,486.0 732.1,483.4 732.6,493.9 733.2,488.2 733.7,495.0 734.3,494.3 734.8,488.5 735.4,489.0 735.9,493.9 736.5,491.5 737.0,492.0 737.6,484.7 738.1,494.3 738.7,487.6 739.2,482.3 739.8,488.6 740.3,492.5 740.9,498.9 741.4,489.5 742.0,485.8 742.5,498.9 743.1,491.5 743.6,489.9 744.2,486.7 744.7,487.0 745.3,496.4 745.8,489.8 746.4,488.8 746.9,488.9 747.5,496.7 748.0,488.5 748.6,493.2 749.1,491.8 749.7,491.7 750.2,487.4 750.8,493.2 751.3,496.8 751.9,490.5 752.4,487.2 753.0,485.8 753.5,491.4 754.1,489.7 754.6,490.3 755.2,490.7 755.7,485.1 756.3,493.6 756.8,491.5 757.4,490.4 757.9,491.5 758.5,494.1 759.0,490.8 759.6,487.4 760.1,495.0 760.7,488.9 761.2,487.8 761.8,484.6 762.3,490.6 762.9,486.6 763.4,488.6 764.0,492.2 764.5,490.7 765.1,494.4 765.6,491.7 766.2,489.0 766.7,489.2 767.3,488.6 767.8,492.9 768.4,490.6 768.9,488.9 769.5,493.7 770.0,490.8 770.6,488.7 771.1,484.7 771.7,492.1 772.2,491.3 772.8,490.6 773.3,488.8 773.9,487.2 774.4,489.5 775.0,491.3 775.5,489.9 776.1,489.8 776.6,488.6 777.2,491.6 777.7,491.2 778.3,487.5 778.8,493.2 779.4,493.3 779.9,493.4 780.5,491.6 781.0,489.6 781.6,485.9 782.1,493.2 782.7,482.2 783.2,488.8 783.8,489.0 784.3,493.5 784.9,490.3 785.4,486.6 786.0,484.8 786.5,487.5 787.1,490.6 787.6,490.4 788.2,489.5 788.7,487.6 789.3,489.4 789.8,494.0 790.4,486.0 790.9,490.3 791.5,496.4 792.0,492.3 792.6,488.5 793.1,492.7 793.7,487.3 794.2,490.2 794.8,496.1 795.3,497.4 795.9,483.7 796.4,492.9 797.0,497.6 797.5,488.1 798.1,491.2 798.6,495.9 799.2,488.3 799.7,491.9 800.3,490.0 800.8,482.9 801.4,491.5 801.9,489.5 802.5,493.7 803.0,498.1 803.6,492.8 804.1,488.8 804.7,491.9 805.2,491.0 805.8,494.1 806.3,484.7 806.9,485.8 807.4,482.4 808.0,492.5 808.5,490.1 809.1,487.8 809.6,487.5 810.2,488.0 810.7,486.7 811.3,489.0 811.8,488.4 812.4,495.5 812.9,491.5 813.5,487.1 814.0,488.0 814.6,494.8 815.1,492.0 815.7,491.4 816.2,493.0 816.8,496.3 817.3,485.7 817.9,487.4 818.4,483.7 819.0,492.2 819.5,488.9 820.1,487.8 820.6,487.4 821.2,492.9 821.7,489.8 822.3,488.3 822.8,495.1 823.4,486.4 823.9,485.6 824.5,500.2 825.0,489.0 825.6,488.3 826.1,487.6 826.7,489.9 827.2,493.4 827.8,493.3 828.3,492.5 828.9,489.4 829.4,484.8 830.0,491.5 830.5,496.2 831.1,494.5 831.6,489.8 832.2,493.5 832.7,489.0 833.3,490.3 833.8,485.8 834.4,489.3 834.9,491.1 835.5,489.9 836.0,493.5 836.6,497.7 837.1,495.6 837.7,489.4 838.2,487.8 838.8,488.1 839.3,486.9 839.9,490.7 840.4,492.2 841.0,491.3 841.5,491.4 842.1,491.2 842.6,490.1 843.2,487.8 843.7,497.2 844.3,494.6 844.8,487.2 845.4,487.2 845.9,488.5 846.5,490.8 847.0,495.5 847.6,494.6 848.1,494.8 848.7,494.9 849.2,494.9 849.8,493.5 850.3,492.5 850.9,490.3 851.4,484.1 852.0,490.3 852.5,497.6 853.1,488.7 853.6,488.4 854.2,494.7 854.7,491.1 855.3,489.0 855.8,496.8 856.4,493.2 856.9,493.7 857.5,488.7 858.0,492.8 858.6,492.3 859.1,493.8 859.7,495.3 860.2,495.2 860.8,491.6 861.3,493.5 861.9,486.6 862.4,493.4 863.0,493.5 863.5,489.5 864.1,488.0 864.6,490.7 865.2,486.4 865.7,492.3 866.3,492.1 866.8,486.1 867.4,491.2 867.9,495.1 868.5,495.1 869.0,494.9 869.6,490.5 870.1,489.8 870.7,489.6 871.2,493.3 871.8,500.0 872.3,496.4 872.9,497.1 873.4,496.2 874.0,485.0 874.5,490.4 875.1,489.5 875.6,495.9 876.2,497.6 876.7,488.6 877.3,491.3 877.8,493.3 878.4,489.3 878.9,488.8 879.5,488.6 880.0,494.6 880.6,487.8 881.1,495.5 881.7,491.6 882.2,494.1 882.8,497.1 883.3,488.7 883.9,488.1 884.4,492.9 885.0,487.3 885.5,488.5 886.1,490.9 886.6,491.9 887.2,486.6 887.7,489.9 888.3,493.5 888.8,496.4 889.4,483.9 889.9,496.3 890.5,494.7 891.0,487.2 891.6,485.8 892.1,492.9 892.7,489.8 893.2,491.9 893.8,494.6 894.3,490.0 894.9,492.0 895.4,493.2 896.0,494.8 896.5,498.1 897.1,497.9 897.6,492.3 898.2,490.5 898.7,500.4 899.3,493.9 899.8,493.1 900.4,487.3 900.9,494.4 901.5,488.5 902.0,489.8 902.6,486.4 903.1,489.5 903.7,491.7 904.2,487.4 904.8,488.1 905.3,491.2 905.9,486.8 906.4,486.8 907.0,488.4 907.5,486.2 908.1,493.9 908.6,487.8 909.2,494.5 909.7,495.1 910.3,488.0 910.8,491.7 911.4,489.8 911.9,487.3 912.5,490.3 913.0,490.7 913.6,494.3 914.1,495.5 914.7,487.5 915.2,490.1 915.8,493.6 916.3,496.1 916.9,482.4 917.4,496.5 918.0,491.0 918.5,497.5 919.1,490.1 919.6,488.5 920.2,491.8 920.7,496.1 921.3,491.8 921.8,482.7 922.4,494.3 922.9,485.6 923.5,488.0 924.0,477.5 924.6,484.7 925.1,487.0 925.7,488.0 926.2,489.4 926.8,491.5 927.3,490.5 927.9,486.1 928.4,491.0 929.0,495.4 929.5,495.3 930.1,492.3 930.6,494.1 931.2,495.2 931.7,496.9 932.3,498.2 932.8,490.6 933.4,490.7 933.9,497.4 934.5,497.7 935.0,497.6 935.6,482.9 936.1,491.0 936.7,479.4 937.2,492.5 937.8,492.0 938.3,492.0 938.9,491.3 939.4,496.8 940.0,490.7 940.5,495.8 941.1,493.9 941.6,493.2 942.2,493.6 942.7,492.3 943.3,487.7 943.8,494.6 944.4,494.6 944.9,491.3 945.5,494.6 946.0,495.3 946.6,487.0 947.1,491.3 947.7,490.2 948.2,488.4 948.8,493.1 949.3,488.7 949.9,490.2 950.4,492.8 951.0,493.2 951.5,493.1 952.1,500.4 952.6,490.0 953.2,492.9 953.7,487.3 954.3,493.7 954.8,496.3 955.4,496.5 955.9,489.5 956.5,490.9 957.0,496.7 957.6,491.6 958.1,495.6 958.7,488.2 959.2,497.2 959.8,495.8 960.3,493.7 960.9,488.9 961.4,491.3 962.0,492.5 962.5,492.9 963.1,491.5 963.6,491.1 964.2,492.7 964.7,497.2 965.3,484.3 965.8,486.7 966.4,486.1 966.9,489.3 967.5,485.3 968.0,494.0 968.6,496.2 969.1,487.0 969.7,489.3 970.2,492.5 970.8,492.6 971.3,493.2 971.9,489.2 972.4,494.4 973.0,486.4 973.5,496.7 974.1,480.2 974.6,489.7 975.2,487.4 975.7,494.9 976.3,486.3 976.8,498.9 977.4,486.1 977.9,499.6 978.5,493.6 979.0,492.0 979.6,493.6 980.1,500.3 980.7,495.3 981.2,483.4 981.8,496.5 982.3,492.8 982.9,485.8 983.4,494.8 984.0,487.3 984.5,492.6 985.1,491.2 985.6,489.4 986.2,494.4 986.7,488.0 987.3,492.6 987.8,489.8 988.4,491.2 988.9,499.2 989.5,492.3 990.0,487.8 990.6,491.4 991.1,489.0 991.7,492.0 992.2,492.5 992.8,492.2 993.3,492.2 993.9,489.8 994.4,493.6 995.0,495.9 995.5,489.5 996.1,491.6 996.6,492.1 997.2,496.6 997.7,496.0 998.3,489.1 998.8,492.1 999.4,486.2 999.9,488.2 1000.5,491.9 1001.0,494.2 1001.6,495.5 1002.1,490.7 1002.7,486.7 1003.2,493.4 1003.8,491.2 1004.3,493.5 1004.9,492.4 1005.4,494.6 1006.0,494.3 1006.5,495.0 1007.1,490.1 1007.6,495.6 1008.2,489.9 1008.7,492.1 1009.3,498.9 1009.8,493.2 1010.4,487.4 1010.9,497.5 1011.5,495.6 1012.0,496.1 1012.6,492.6 1013.1,493.1 1013.7,490.9 1014.2,489.1 1014.8,497.6 1015.3,490.4 1015.9,490.0 1016.4,490.1 1017.0,498.9 1017.5,495.1 1018.1,490.4 1018.6,491.6 1019.2,493.7 1019.7,495.1 1020.3,485.7 1020.8,495.2 1021.4,491.0 1021.9,489.2 1022.5,491.1 1023.0,494.8 1023.6,498.5 1024.1,492.3 1024.7,493.9 1025.2,488.7 1025.8,493.6 1026.3,494.9 1026.9,486.1 1027.4,489.8 1028.0,494.8 1028.5,485.1 1029.1,490.3 1029.6,494.0 1030.2,485.3 1030.7,490.2 1031.3,492.0 1031.8,495.1 1032.4,486.9 1032.9,496.0 1033.5,492.9 1034.0,496.3 1034.6,496.2 1035.1,493.0 1035.7,493.6 1036.2,485.1 1036.8,486.6 1037.3,487.9 1037.9,490.4 1038.4,495.3 1039.0,484.9 1039.5,490.5 1040.1,486.7 1040.6,485.8 1041.2,497.3 1041.7,492.1 1042.3,497.9 1042.8,496.2 1043.4,488.2 1043.9,484.7 1044.5,499.6 1045.0,490.2 1045.6,487.3 1046.1,494.3 1046.7,492.2 1047.2,489.1 1047.8,490.4 1048.3,492.3 1048.9,492.0 1049.4,494.6 1050.0,490.3 1050.5,490.4 1051.1,494.0 1051.6,492.9 1052.2,495.8 1052.7,490.7 1053.3,491.3 1053.8,487.3 1054.4,497.4 1054.9,486.4 1055.5,492.4 1056.0,488.3 1056.6,492.9 1057.1,494.5 1057.7,485.4 1058.2,490.8 1058.8,485.0 1059.3,497.0 1059.9,490.0 1060.4,485.7 1061.0,489.0 1061.5,496.6 1062.1,497.3 1062.6,496.5 1063.2,488.7 1063.7,491.1 1064.3,497.8 1064.8,488.8 1065.4,490.2 1065.9,488.0 1066.5,487.2 1067.0,496.2 1067.6,494.0 1068.1,493.3 1068.7,493.8 1069.2,495.5 1069.8,497.3 1070.3,491.6 1070.9,490.3 1071.4,487.7 1072.0,495.7 1072.5,489.6 1073.1,485.9 1073.6,490.6 1074.2,491.7 1074.7,494.8 1075.3,495.4 1075.8,488.8 1076.4,488.5 1076.9,490.3 1077.5,487.0 1078.0,491.2 1078.6,493.3 1079.1,491.7 1079.7,485.4 1080.2,487.0 1080.8,496.5 1081.3,487.7 1081.9,494.4 1082.4,494.0 1083.0,490.3 1083.5,487.8 1084.1,492.4 1084.6,488.2 1085.2,490.9 1085.7,492.0 1086.3,488.8 1086.8,490.7 1087.4,490.4 1087.9,486.8 1088.5,490.8 1089.0,489.1 1089.6,484.6 1090.1,490.2 1090.7,490.5 1091.2,489.2 1091.8,483.7 1092.3,494.5 1092.9,494.1 1093.4,494.0 1094.0,492.8 1094.5,486.7 1095.1,492.0 1095.6,488.0 1096.2,499.8 1096.7,489.5 1097.3,501.3 1097.8,485.6 1098.4,487.0 1098.9,489.5 1099.5,494.2 1100.0,493.6 1100.6,492.6 1101.1,484.4 1101.7,495.8 1102.2,488.0 1102.8,497.6 1103.3,498.6 1103.9,494.6 1104.4,495.2 1105.0,486.7 1105.5,501.3 1106.1,492.3 1106.6,495.3 1107.2,488.2 1107.7,491.2 1108.3,486.9 1108.8,490.5 1109.4,491.5 1109.9,492.4 1110.5,496.7 1111.0,493.3 1111.6,492.4 1112.1,491.6 1112.7,499.1 1113.2,489.2 1113.8,495.9 1114.3,484.0 1114.9,488.1 1115.4,493.0 1116.0,490.8 1116.5,502.8 1117.1,501.2 1117.6,485.6 1118.2,487.3 1118.7,490.9 1119.3,498.0 1119.8,495.7 1120.4,492.6 1120.9,486.0 1121.5,488.2 1122.0,481.2 1122.6,485.6 1123.1,493.0 1123.7,494.4 1124.2,486.4 1124.8,491.8 1125.3,497.6 1125.9,492.0 1126.4,490.2 1127.0,493.7 1127.5,493.4 1128.1,495.2 1128.6,489.3 1129.2,489.8 1129.7,491.7 1130.3,489.3 1130.8,496.4 1131.4,494.8 1131.9,495.5 1132.5,499.1 1133.0,497.4 1133.6,496.7 1134.1,492.8 1134.7,490.6 1135.2,500.1 1135.8,488.8 1136.3,489.0 1136.9,488.0 1137.4,492.1 1138.0,492.9 1138.5,495.2 1139.1,490.5 1139.6,484.7 1140.2,492.5 1140.7,495.0 1141.3,491.4 1141.8,490.8 1142.4,493.4 1142.9,496.7 1143.5,491.0 1144.0,485.9 1144.6,489.1 1145.1,490.7 1145.7,484.4 1146.2,494.2 1146.8,488.4 1147.3,493.2 1147.9,492.0 1148.4,490.1 1149.0,497.5 1149.5,489.1 1150.1,488.7 1150.6,492.4 1151.2,494.4 1151.7,491.2 1152.3,487.5 1152.8,493.9 1153.4,493.5 1153.9,499.1 1154.5,490.4 1155.0,492.0 1155.6,489.1 1156.1,485.6 1156.7,491.5 1157.2,494.4 1157.8,487.4 1158.3,488.6 1158.9,486.7 1159.4,496.3 1160.0,488.8 1160.5,493.4 1161.1,487.9 1161.6,491.5 1162.2,488.8 1162.7,482.3 1163.3,491.5 1163.8,493.2 1164.4,483.3 1164.9,490.5 1165.5,489.5 1166.0,487.1 1166.6,490.2 1167.1,483.8 1167.7,492.1 1168.2,495.7 1168.8,486.4 1169.3,490.9 1169.9,496.6 1170.4,491.6 1171.0,489.2 1171.5,487.7 1172.1,491.8 1172.6,490.6 1173.2,493.5 1173.7,485.4 1174.3,495.2 1174.8,489.6 1175.4,493.6 1175.9,488.4 1176.5,486.2 1177.0,489.0 1177.6,487.5 1178.1,489.7 1178.7,493.6 1179.2,495.2 1179.8,491.9 1180.3,489.0 1180.9,489.4 1181.4,493.3 1182.0,495.4 1182.5,489.9 1183.1,490.6 1183.6,488.2 1184.2,491.9 1184.7,494.7 1185.3,480.0 1185.8,492.0 1186.4,489.0 1186.9,482.2 1187.5,492.2 1188.0,490.7 1188.6,492.5 1189.1,485.9 1189.7,499.2 1190.2,491.5 1190.8,489.7 1191.3,496.8 1191.9,493.5 1192.4,494.2 1193.0,495.4 1193.5,483.1 1194.1,497.4 1194.6,485.5 1195.2,492.1 1195.7,494.5 1196.3,488.3 1196.8,492.2 1197.4,493.9 1197.9,490.8 1198.5,492.9 1199.0,484.9 1199.6,486.4 1200.1,486.6 1200.7,492.4 1201.2,505.2 1201.8,492.0 1202.3,490.4 1202.9,490.7 1203.4,494.7 1204.0,493.7 1204.5,486.6 1205.1,494.8 1205.6,490.8 1206.2,497.0 1206.7,483.3 1207.3,485.0 1207.8,493.2 1208.4,484.1 1208.9,492.4 1209.5,492.2 1210.0,491.4 1210.6,492.2 1211.1,491.9 1211.7,492.6 1212.2,489.3 1212.8,490.8 1213.3,502.0 1213.9,495.2 1214.4,493.2 1215.0,492.3 1215.5,488.1 1216.1,491.7 1216.6,489.9 1217.2,494.4 1217.7,487.3 1218.3,481.8 1218.8,488.7 1219.4,493.5 1219.9,500.1 1220.5,494.7 1221.0,487.1 1221.6,490.0 1222.1,487.2 1222.7,490.1 1223.2,486.0 1223.8,484.5 1224.3,492.4 1224.9,491.5 1225.4,490.1 1226.0,492.1 1226.5,498.5 1227.1,491.2 1227.6,489.3 1228.2,494.0 1228.7,484.5 1229.3,493.6 1229.8,487.8 1230.4,487.6 1230.9,491.1 1231.5,497.1 1232.0,487.9 1232.6,494.3 1233.1,492.1 1233.7,485.4 1234.2,494.2 1234.8,487.6 1235.3,485.1 1235.9,487.7 1236.4,487.9 1237.0,493.0 1237.5,487.9 1238.1,496.4 1238.6,491.6 1239.2,488.0 1239.7,487.6 1240.3,494.8 1240.8,483.1 1241.4,482.5 1241.9,487.4 1242.5,493.2 1243.0,491.5 1243.6,490.9 1244.1,490.0 1244.7,482.6 1245.2,489.6 1245.8,484.1 1246.3,494.1 1246.9,490.9 1247.4,490.6 1248.0,492.4 1248.5,492.2 1249.1,491.8 1249.6,485.0 1250.2,481.5 1250.7,480.5 1251.3,481.0 1251.8,483.0 1252.4,486.0 1252.9,490.2 1253.5,493.4 1254.0,490.8 1254.6,492.6 1255.1,488.8 1255.7,491.7 1256.2,498.8 1256.8,494.1 1257.3,496.9 1257.9,488.2 1258.4,488.6 1259.0,491.1 1259.5,493.3 1260.1,490.4 1260.6,495.1 1261.2,489.2 1261.7,491.0 1262.3,497.0 1262.8,492.0 1263.4,498.5 1263.9,493.0 1264.5,498.0" fill="none" stroke="#8484BC" stroke-width="6" stroke-linejoin="round" stroke-linecap="round" shape-rendering="crispEdges"/>
</g>
<rect x="163.5" y="24.5" width="1268" height="1017" fill="none" stroke="#000" stroke-width="5" shape-rendering="crispEdges"/>
<g shape-rendering="crispEdges">
<rect x="320" y="1021" width="5" height="20" fill="#000"/>
<rect x="558" y="1021" width="4" height="20" fill="#000"/>
<rect x="795" y="1021" width="5" height="20" fill="#000"/>
<rect x="1033" y="1021" width="5" height="20" fill="#000"/>
<rect x="1271" y="1021" width="4" height="20" fill="#000"/>
<rect x="164" y="158" width="20" height="5" fill="#000"/>
<rect x="164" y="362" width="20" height="4" fill="#000"/>
<rect x="164" y="565" width="20" height="4" fill="#000"/>
<rect x="164" y="768" width="20" height="5" fill="#000"/>
<rect x="164" y="971" width="20" height="5" fill="#000"/>
</g>
<g id="labels" filter="url(#al)">
<text class="tk" x="322.5" y="1100" text-anchor="middle">-60</text>
<text class="tk" x="560" y="1100" text-anchor="middle">-30</text>
<text class="tk" x="797.5" y="1100" text-anchor="middle">0</text>
<text class="tk" x="1035.5" y="1100" text-anchor="middle">30</text>
<text class="tk" x="1273" y="1100" text-anchor="middle">60</text>
<text class="tk" x="142.5" y="175" text-anchor="end">1.2</text>
<text class="tk" x="142.5" y="379" text-anchor="end">0.9</text>
<text class="tk" x="142.5" y="582" text-anchor="end">0.6</text>
<text class="tk" x="142.5" y="785" text-anchor="end">0.3</text>
<text class="tk" x="142.5" y="988" text-anchor="end">0.0</text>
</g>
<g id="legend" filter="url(#al)">
<text class="ti" x="964.5" y="117">4000-CO<tspan font-size="35.5" dy="14">2</tspan></text>
<rect x="960" y="173" width="124" height="6" rx="2" fill="#61C68D"/>
<text class="lg" x="1095.5" y="193.5">70°C-10<tspan dx="1.2">M</tspan><tspan dx="1">P</tspan><tspan dx="0.8">a</tspan></text>
<rect x="960" y="239" width="124" height="6" rx="2" fill="#FF7BAC"/>
<text class="lg" x="1095.5" y="260.2">80°C-10<tspan dx="1.2">M</tspan><tspan dx="1">P</tspan><tspan dx="0.8">a</tspan></text>
<rect x="960" y="306" width="124" height="6" rx="2" fill="#8484BC"/>
<text class="lg" x="1095.5" y="326.8">70°C-20<tspan dx="1.2">M</tspan><tspan dx="1">P</tspan><tspan dx="0.8">a</tspan></text>

</g>
<g id="axt" filter="url(#al)">
<text class="ax" x="797.5" y="1186" text-anchor="middle">z / Å</text>
<text class="ax" transform="translate(59.6,709.5) rotate(-90)">Density / g·cm<tspan font-size="35.5" dy="-22">-3</tspan></text>
</g>
</svg>
</body></html>
